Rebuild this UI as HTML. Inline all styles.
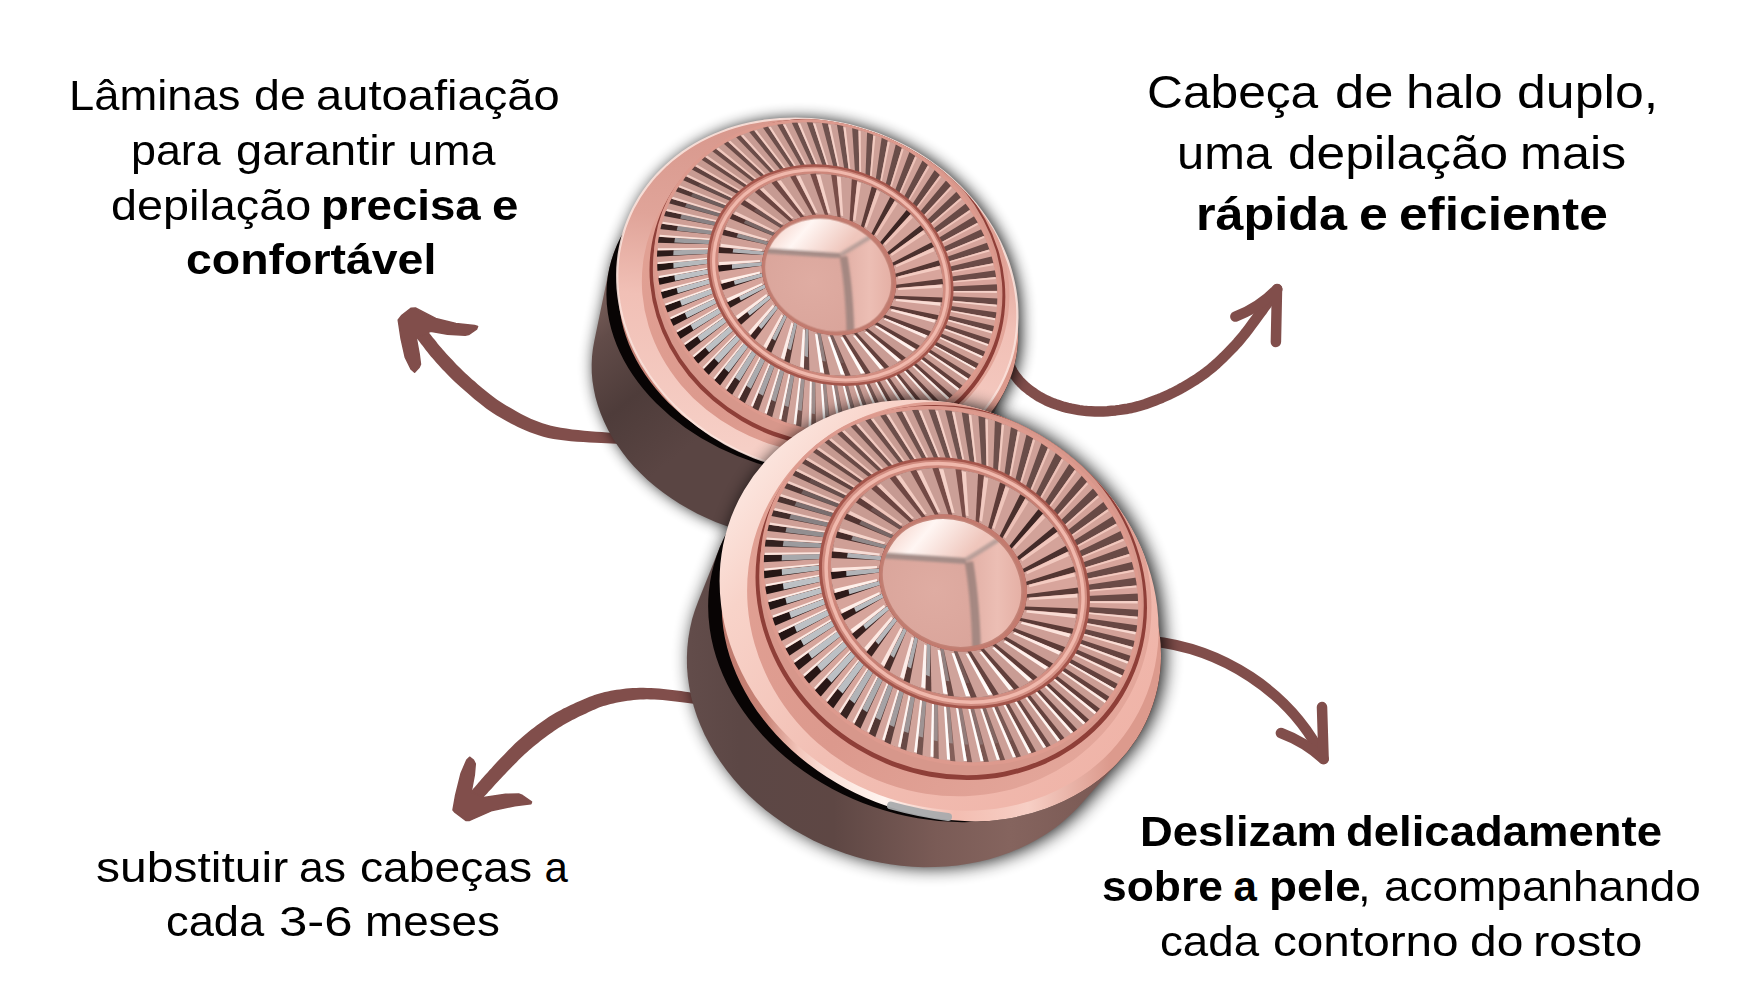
<!DOCTYPE html>
<html lang="pt"><head><meta charset="utf-8"><title>Infográfico</title>
<style>
html,body{margin:0;padding:0;background:#fff;}
body{width:1754px;height:1007px;position:relative;overflow:hidden;font-family:"Liberation Sans",sans-serif;color:#000;}
.blk{margin:0;}
.ln{position:absolute;display:block;white-space:nowrap;line-height:1;transform-origin:0 0;}
.ln b{font-weight:700;}
svg{position:absolute;left:0;top:0;}
</style></head><body>
<svg width="1754" height="1007" viewBox="0 0 1754 1007">

<defs>
<filter id="soft" x="-10%" y="-10%" width="120%" height="120%"><feGaussianBlur stdDeviation="1.3"/></filter>
<filter id="sh" x="-20%" y="-20%" width="140%" height="140%"><feGaussianBlur stdDeviation="9"/><feOffset dx="3.5" dy="0"/></filter>
<linearGradient id="bodyg" gradientUnits="userSpaceOnUse" x1="690" y1="0" x2="1100" y2="0">
 <stop offset="0" stop-color="#624c4a"/><stop offset="0.12" stop-color="#5c4745"/><stop offset="0.35" stop-color="#5e4744"/><stop offset="0.6" stop-color="#7a5b56"/><stop offset="0.78" stop-color="#85645e"/><stop offset="1" stop-color="#7b5a55"/>
</linearGradient>
<linearGradient id="bodyg1" gradientUnits="userSpaceOnUse" x1="690" y1="600" x2="830" y2="760">
 <stop offset="0" stop-color="#80645f"/><stop offset="0.25" stop-color="#624c49"/><stop offset="0.6" stop-color="#4e3c3a"/><stop offset="1" stop-color="#5a4543"/>
</linearGradient>
<linearGradient id="lipg" gradientUnits="userSpaceOnUse" x1="700" y1="0" x2="1110" y2="0">
 <stop offset="0" stop-color="#b87468"/><stop offset="0.16" stop-color="#c98477"/><stop offset="0.24" stop-color="#f3c5ba"/><stop offset="0.31" stop-color="#fbe2da"/><stop offset="0.45" stop-color="#fff4ef"/><stop offset="0.62" stop-color="#f3bdb1"/><stop offset="0.8" stop-color="#f7cfc5"/><stop offset="1" stop-color="#dc9a8d"/>
</linearGradient>
<linearGradient id="paleg" gradientUnits="userSpaceOnUse" x1="740" y1="450" x2="1140" y2="760">
 <stop offset="0" stop-color="#fdebe5"/><stop offset="0.18" stop-color="#f8d3c9"/><stop offset="0.5" stop-color="#f2bfb4"/><stop offset="1" stop-color="#efb3a7"/>
</linearGradient>
<linearGradient id="paleg1" gradientUnits="userSpaceOnUse" x1="800" y1="400" x2="760" y2="780">
 <stop offset="0" stop-color="#d8988d"/><stop offset="0.3" stop-color="#e0a499"/><stop offset="0.55" stop-color="#f1c0b6"/><stop offset="1" stop-color="#f6cfc6"/>
</linearGradient>
<linearGradient id="teethg" gradientUnits="userSpaceOnUse" x1="740" y1="450" x2="1140" y2="760">
 <stop offset="0" stop-color="#e3a396"/><stop offset="0.5" stop-color="#dc998d"/><stop offset="1" stop-color="#e5a99d"/>
</linearGradient>
<linearGradient id="midg" gradientUnits="userSpaceOnUse" x1="820" y1="470" x2="1090" y2="700">
 <stop offset="0" stop-color="#d48f83"/><stop offset="0.5" stop-color="#c77f73"/><stop offset="1" stop-color="#d9978b"/>
</linearGradient>
<radialGradient id="domeg" gradientUnits="userSpaceOnUse" cx="935" cy="590" r="90">
 <stop offset="0" stop-color="#dfaca2"/><stop offset="0.7" stop-color="#daa59b"/><stop offset="1" stop-color="#cf958a"/>
</radialGradient>
<linearGradient id="domeTop" gradientUnits="userSpaceOnUse" x1="900" y1="515" x2="960" y2="565">
 <stop offset="0" stop-color="#f4d0c7"/><stop offset="0.4" stop-color="#fff6f3"/><stop offset="1" stop-color="#efc6bc"/>
</linearGradient>
<linearGradient id="domeRight" gradientUnits="userSpaceOnUse" x1="970" y1="0" x2="1025" y2="0">
 <stop offset="0" stop-color="#e2b0a6"/><stop offset="0.5" stop-color="#ecbeb4"/><stop offset="1" stop-color="#e4aea3"/>
</linearGradient>
</defs>

<path d="M1002.0 345.0 L1003.5 348.8 L1004.9 352.7 L1006.3 356.6 L1007.7 360.6 L1009.2 364.4 L1010.8 368.1 L1012.6 371.6 L1014.6 374.9 L1016.9 377.9 L1019.3 380.8 L1021.9 383.5 L1024.6 386.1 L1027.5 388.5 L1030.4 390.8 L1033.4 392.9 L1036.5 395.0 L1039.6 396.9 L1042.9 398.7 L1046.2 400.4 L1049.6 401.9 L1053.1 403.3 L1056.7 404.6 L1060.3 405.8 L1063.9 406.9 L1067.6 407.9 L1071.4 408.7 L1075.2 409.4 L1079.1 410.1 L1083.0 410.6 L1086.9 411.0 L1090.9 411.2 L1094.9 411.4 L1099.0 411.4 L1103.1 411.4 L1107.3 411.2 L1111.5 410.8 L1115.7 410.4 L1119.8 409.9 L1123.8 409.3 L1127.7 408.7 L1131.4 408.0 L1134.9 407.1 L1138.4 406.2 L1141.7 405.2 L1145.1 404.2 L1148.4 403.0 L1151.7 401.8 L1155.1 400.5 L1158.5 399.2 L1161.9 397.8 L1165.3 396.3 L1168.8 394.7 L1172.2 393.1 L1175.6 391.4 L1179.0 389.6 L1182.4 387.7 L1185.8 385.7 L1189.2 383.7 L1192.7 381.6 L1196.1 379.5 L1199.5 377.2 L1202.9 374.8 L1206.4 372.2 L1209.8 369.5 L1213.3 366.6 L1216.8 363.5 L1220.3 360.2 L1223.8 356.9 L1227.3 353.4 L1230.7 349.9 L1234.0 346.5 L1237.2 343.0 L1240.2 339.5 L1243.1 336.0 L1246.0 332.4 L1248.7 328.8 L1251.4 325.2 L1254.0 321.6 L1256.6 318.1 L1259.1 314.7 L1261.6 311.4 L1263.9 308.1 L1266.2 304.9 L1268.4 301.8 L1270.6 298.6 L1272.8 295.5 L1275.1 292.4 L1277.3 289.2" fill="none" stroke="#814e4b" stroke-width="10.5" stroke-linecap="round" stroke-linejoin="round"/>
<path d="M1235.4 316.6 Q1260 307 1277 289 L1275.9 342" fill="none" stroke="#814e4b" stroke-width="10.5" stroke-linecap="round" stroke-linejoin="round"/>
<path d="M1150 641 C1220 648 1290 690 1323.6 759" fill="none" stroke="#814e4b" stroke-width="10.5" stroke-linecap="round"/>
<path d="M1322 707 L1323.6 759 Q1305 742 1280.9 733" fill="none" stroke="#814e4b" stroke-width="10.5" stroke-linecap="round" stroke-linejoin="round"/>
<path d="M650.0 434.0 L647.3 434.0 L644.7 433.9 L642.3 434.0 L639.9 434.0 L637.5 434.0 L635.2 434.0 L632.7 434.0 L630.1 434.0 L627.2 433.9 L624.1 433.7 L620.6 433.5 L616.6 433.3 L612.2 432.9 L607.2 432.5 L601.8 432.1 L596.1 431.7 L590.2 431.2 L584.2 430.7 L578.2 430.1 L572.2 429.4 L566.4 428.6 L560.9 427.8 L555.7 426.8 L551.0 425.7 L546.7 424.5 L542.5 423.2 L538.5 421.8 L534.6 420.3 L530.8 418.7 L527.2 417.0 L523.6 415.3 L520.2 413.4 L516.7 411.5 L513.3 409.6 L509.9 407.6 L506.6 405.7 L503.4 403.7 L500.3 401.7 L497.2 399.7 L494.2 397.5 L491.3 395.3 L488.4 393.1 L485.6 390.8 L482.8 388.5 L480.1 386.2 L477.4 383.9 L474.8 381.6 L472.2 379.4 L469.8 377.2 L467.4 375.1 L465.1 372.9 L462.8 370.8 L460.6 368.6 L458.5 366.5 L456.4 364.4 L454.4 362.2 L452.4 360.1 L450.4 358.0 L448.5 355.9 L446.6 353.9 L444.7 351.8 L442.9 349.8 L441.2 347.8 L439.4 345.7 L437.7 343.7 L436.1 341.6 L434.5 339.6 L432.9 337.7 L431.4 335.8 L430.0 334.0 L428.6 332.3 L427.3 330.7 L426.2 329.2 L425.1 327.9 L424.2 326.7 L423.3 325.5 L422.5 324.4 L421.8 323.4 L421.1 322.4 L420.3 321.4 L419.6 320.4 L418.8 319.3 L418.1 318.3 L417.2 317.1 L406.8 324.9 L407.6 326.0 L408.3 327.0 L409.1 328.0 L409.8 329.0 L410.5 330.0 L411.3 331.0 L412.1 332.1 L412.9 333.3 L413.8 334.5 L414.8 335.8 L415.9 337.2 L417.1 338.7 L418.3 340.3 L419.7 342.1 L421.1 343.9 L422.6 345.8 L424.1 347.8 L425.7 349.9 L427.4 352.0 L429.1 354.2 L430.9 356.4 L432.8 358.6 L434.7 360.8 L436.6 362.9 L438.5 365.1 L440.5 367.2 L442.5 369.4 L444.6 371.5 L446.7 373.8 L448.9 376.0 L451.1 378.2 L453.4 380.5 L455.8 382.8 L458.3 385.0 L460.8 387.3 L463.4 389.6 L466.0 391.8 L468.6 394.1 L471.4 396.5 L474.2 398.9 L477.1 401.3 L480.0 403.6 L483.1 406.0 L486.2 408.4 L489.5 410.7 L492.8 413.0 L496.3 415.2 L499.8 417.3 L503.3 419.3 L506.8 421.2 L510.4 423.2 L514.0 425.1 L517.8 427.0 L521.7 428.8 L525.7 430.6 L529.9 432.3 L534.2 433.8 L538.6 435.3 L543.3 436.7 L548.2 437.9 L553.4 438.9 L559.0 439.8 L564.9 440.5 L570.9 441.2 L577.1 441.7 L583.3 442.1 L589.4 442.5 L595.4 442.8 L601.1 443.1 L606.5 443.3 L611.5 443.5 L616.0 443.7 L620.0 444.0 L623.6 444.1 L626.9 444.2 L629.9 444.3 L632.7 444.3 L635.3 444.3 L637.7 444.2 L640.1 444.1 L642.4 444.1 L644.8 444.0 L647.3 444.0 L650.0 444.0Z" fill="#814e4b"/>
<path d="M398.2 320.0 L401.9 315.3 L411.2 308.2 L415.4 307.9 L435.7 318.4 L455.9 323.4 L474.5 325.4 L477.6 326.5 L476.5 329.2 L468.6 334.6 L465.2 335.2 L447.5 334.2 L430.6 331.2 L416.3 338.1 L419.2 354.1 L420.5 364.3 L419.2 367.3 L414.6 372.2 L411.2 369.3 L405.3 357.5 L401.1 338.9 Z" fill="#814e4b" stroke="#814e4b" stroke-width="1.5" stroke-linejoin="round"/>
<path d="M731.1 701.1 L728.3 700.5 L725.7 699.9 L723.0 699.2 L720.4 698.5 L717.8 697.9 L715.1 697.2 L712.4 696.6 L709.5 695.9 L706.6 695.3 L703.5 694.7 L700.2 694.1 L696.8 693.5 L693.2 692.9 L689.3 692.3 L685.3 691.7 L681.1 691.1 L676.7 690.5 L672.4 690.0 L668.0 689.4 L663.6 689.0 L659.2 688.6 L655.0 688.2 L651.0 688.0 L647.1 687.9 L643.4 687.8 L639.7 687.8 L636.2 687.9 L632.8 688.1 L629.4 688.3 L626.1 688.6 L622.9 688.9 L619.7 689.4 L616.6 689.8 L613.6 690.3 L610.7 690.8 L607.8 691.4 L604.9 692.0 L602.2 692.7 L599.5 693.4 L596.9 694.2 L594.4 695.0 L592.0 695.9 L589.6 696.8 L587.3 697.8 L585.0 698.7 L582.7 699.7 L580.4 700.7 L578.0 701.7 L575.6 702.8 L573.2 703.9 L570.8 705.0 L568.3 706.2 L565.9 707.4 L563.4 708.6 L561.0 709.9 L558.5 711.3 L556.1 712.6 L553.6 714.1 L551.1 715.6 L548.6 717.1 L546.2 718.8 L543.7 720.4 L541.2 722.2 L538.7 724.0 L536.3 725.8 L533.8 727.7 L531.3 729.6 L528.9 731.6 L526.5 733.5 L524.1 735.5 L521.8 737.5 L519.5 739.5 L517.2 741.5 L515.0 743.6 L512.8 745.7 L510.6 747.9 L508.5 750.1 L506.4 752.2 L504.3 754.4 L502.3 756.5 L500.3 758.6 L498.4 760.6 L496.5 762.6 L494.7 764.6 L492.9 766.5 L491.2 768.4 L489.4 770.3 L487.8 772.2 L486.1 774.0 L484.5 775.8 L483.0 777.6 L481.4 779.3 L480.0 781.0 L478.6 782.6 L477.2 784.2 L475.9 785.7 L474.6 787.2 L473.4 788.6 L472.2 789.9 L471.1 791.2 L470.1 792.4 L469.1 793.6 L468.1 794.8 L467.1 796.0 L466.1 797.2 L465.1 798.3 L464.1 799.5 L463.1 800.7 L472.9 809.3 L474.0 808.1 L475.0 806.9 L476.1 805.7 L477.1 804.6 L478.1 803.5 L479.1 802.3 L480.1 801.1 L481.2 800.0 L482.3 798.7 L483.4 797.5 L484.6 796.1 L485.9 794.7 L487.3 793.2 L488.7 791.6 L490.2 790.0 L491.7 788.4 L493.2 786.7 L494.7 785.0 L496.3 783.3 L498.0 781.5 L499.6 779.7 L501.3 777.9 L503.1 776.1 L504.9 774.2 L506.7 772.3 L508.6 770.3 L510.6 768.3 L512.5 766.3 L514.5 764.2 L516.6 762.2 L518.6 760.1 L520.7 758.1 L522.8 756.1 L524.9 754.1 L527.0 752.2 L529.1 750.3 L531.2 748.5 L533.5 746.6 L535.7 744.7 L538.0 742.9 L540.3 741.0 L542.6 739.2 L545.0 737.4 L547.3 735.7 L549.7 734.0 L552.0 732.4 L554.3 730.8 L556.6 729.3 L558.8 727.8 L561.0 726.4 L563.3 725.1 L565.5 723.8 L567.8 722.5 L570.1 721.3 L572.3 720.1 L574.6 718.9 L576.9 717.8 L579.2 716.6 L581.5 715.6 L583.8 714.5 L586.1 713.4 L588.3 712.3 L590.5 711.3 L592.7 710.3 L594.8 709.4 L596.9 708.5 L599.0 707.6 L601.2 706.8 L603.4 706.1 L605.7 705.4 L608.1 704.7 L610.6 704.0 L613.3 703.4 L616.0 702.8 L618.8 702.2 L621.6 701.7 L624.6 701.2 L627.5 700.8 L630.6 700.4 L633.7 700.0 L636.9 699.8 L640.1 699.5 L643.5 699.4 L646.9 699.3 L650.5 699.4 L654.4 699.5 L658.4 699.8 L662.5 700.1 L666.8 700.5 L671.1 700.9 L675.4 701.4 L679.7 701.9 L683.8 702.4 L687.8 702.9 L691.6 703.4 L695.2 703.9 L698.5 704.4 L701.6 704.9 L704.5 705.5 L707.4 706.0 L710.1 706.6 L712.8 707.2 L715.4 707.8 L718.0 708.4 L720.7 709.0 L723.4 709.7 L726.1 710.3 L728.9 710.9Z" fill="#814e4b"/>
<path d="M453.0 810.0 L455.5 795.8 L461.1 773.2 L466.8 760.0 L469.6 757.2 L473.4 760.0 L475.3 763.8 L474.3 775.1 L471.1 792.1 L483.8 797.4 L505.5 794.3 L518.7 794.0 L522.5 795.5 L531.5 801.9 L530.9 803.8 L514.9 805.7 L492.3 810.4 L469.6 820.4 L465.8 820.4 L454.5 811.9 Z" fill="#814e4b" stroke="#814e4b" stroke-width="1.5" stroke-linejoin="round"/>
<g transform="translate(819 275) scale(0.909 0.84) translate(-942 -583)">
<path d="M693.3 670.4 L694.9 660.9 L711.5 574.4 L713.8 564.9 L716.7 555.7 L720.1 546.6 L734.2 511.7 L737.4 504.3 L741.0 497.2 L744.8 490.2 L749.0 483.4 L753.4 476.8 L758.1 470.4 L763.1 464.2 L768.4 458.3 L773.9 452.5 L779.7 447.0 L785.8 441.8 L792.0 436.8 L798.6 432.0 L805.3 427.6 L812.2 423.4 L819.4 419.5 L826.7 415.9 L834.2 412.6 L841.8 409.6 L849.6 406.9 L857.6 404.5 L865.7 402.4 L873.9 400.7 L882.2 399.2 L890.5 398.1 L899.0 397.3 L907.5 396.9 L916.1 396.7 L924.7 396.9 L933.3 397.4 L942.0 398.3 L950.6 399.4 L959.2 400.9 L967.8 402.7 L976.4 404.8 L984.9 407.3 L993.3 410.0 L1001.7 413.0 L1009.9 416.4 L1018.1 420.0 L1026.1 424.0 L1034.0 428.2 L1041.7 432.7 L1049.3 437.4 L1056.7 442.5 L1064.0 447.7 L1071.0 453.3 L1077.9 459.0 L1084.5 465.0 L1090.9 471.3 L1097.1 477.7 L1103.1 484.3 L1108.7 491.1 L1114.2 498.1 L1119.3 505.3 L1124.2 512.7 L1128.8 520.1 L1133.1 527.7 L1137.1 535.5 L1140.8 543.3 L1144.2 551.3 L1147.3 559.3 L1150.1 567.4 L1152.5 575.6 L1154.6 583.8 L1156.4 592.1 L1157.9 600.4 L1159.0 608.7 L1159.8 617.0 L1160.2 625.3 L1160.7 657.8 L1160.3 667.6 L1159.3 677.4 L1157.7 687.0 L1155.4 696.5 L1152.5 705.7 L1149.1 714.8 L1145.0 723.7 L1109.8 800.6 L1105.3 809.1 L1100.4 817.3 L1094.8 825.2 L1088.8 832.9 L1082.3 840.2 L1075.3 847.1 L1067.9 853.7 L1060.0 859.9 L1051.7 865.7 L1043.0 871.1 L1033.9 876.0 L1024.5 880.5 L1014.8 884.5 L1004.8 888.1 L994.5 891.2 L984.0 893.7 L973.2 895.8 L962.3 897.4 L951.3 898.5 L940.1 899.1 L928.9 899.2 L917.6 898.7 L906.2 897.8 L894.9 896.3 L883.6 894.3 L872.4 891.9 L861.3 888.9 L850.3 885.5 L839.4 881.6 L828.8 877.2 L818.3 872.4 L808.2 867.1 L798.2 861.4 L788.6 855.3 L779.4 848.8 L770.4 842.0 L761.9 834.8 L753.7 827.2 L746.0 819.4 L738.7 811.2 L731.9 802.8 L725.6 794.1 L719.8 785.2 L714.5 776.1 L709.7 766.9 L705.5 757.5 L701.8 747.9 L698.7 738.3 L696.1 728.6 L694.2 718.8 L692.8 709.1 L692.0 699.3 L691.9 689.6 L692.3 680.0Z" fill="#000" opacity="0.92" filter="url(#sh)"/>
<path d="M693.3 670.4 L694.9 660.9 L711.5 574.4 L713.8 564.9 L716.7 555.7 L720.1 546.6 L724.2 537.7 L728.8 529.1 L734.0 520.8 L739.7 512.8 L746.0 505.1 L752.8 497.8 L760.1 490.8 L767.8 484.2 L776.1 478.0 L784.7 472.2 L793.8 466.9 L803.2 462.0 L813.0 457.6 L823.2 453.6 L833.6 450.1 L844.4 447.2 L855.4 444.7 L866.6 442.7 L877.9 441.3 L889.5 440.4 L901.1 439.9 L912.9 440.1 L924.7 440.7 L936.5 441.9 L948.4 443.5 L960.2 445.7 L971.9 448.4 L983.5 451.6 L995.0 455.3 L1006.3 459.5 L1017.4 464.1 L1028.3 469.2 L1039.0 474.7 L1049.3 480.7 L1059.4 487.1 L1069.1 493.8 L1078.4 501.0 L1087.4 508.5 L1095.9 516.3 L1103.9 524.5 L1111.6 532.9 L1118.7 541.6 L1125.3 550.6 L1131.4 559.7 L1137.0 569.1 L1142.0 578.6 L1146.4 588.3 L1150.3 598.1 L1153.5 608.0 L1156.2 617.9 L1158.3 627.9 L1159.7 637.9 L1160.5 647.9 L1160.7 657.8 L1160.3 667.6 L1159.3 677.4 L1157.7 687.0 L1155.4 696.5 L1152.5 705.7 L1149.1 714.8 L1145.0 723.7 L1109.8 800.6 L1105.3 809.1 L1100.4 817.3 L1094.8 825.2 L1088.8 832.9 L1082.3 840.2 L1075.3 847.1 L1067.9 853.7 L1060.0 859.9 L1051.7 865.7 L1043.0 871.1 L1033.9 876.0 L1024.5 880.5 L1014.8 884.5 L1004.8 888.1 L994.5 891.2 L984.0 893.7 L973.2 895.8 L962.3 897.4 L951.3 898.5 L940.1 899.1 L928.9 899.2 L917.6 898.7 L906.2 897.8 L894.9 896.3 L883.6 894.3 L872.4 891.9 L861.3 888.9 L850.3 885.5 L839.4 881.6 L828.8 877.2 L818.3 872.4 L808.2 867.1 L798.2 861.4 L788.6 855.3 L779.4 848.8 L770.4 842.0 L761.9 834.8 L753.7 827.2 L746.0 819.4 L738.7 811.2 L731.9 802.8 L725.6 794.1 L719.8 785.2 L714.5 776.1 L709.7 766.9 L705.5 757.5 L701.8 747.9 L698.7 738.3 L696.1 728.6 L694.2 718.8 L692.8 709.1 L692.0 699.3 L691.9 689.6 L692.3 680.0Z" fill="url(#bodyg1)"/>
<path d="M1152.54 705.74 A230.50 185.50 19.00 1 1 716.66 555.66 A230.50 185.50 19.00 1 1 1152.54 705.74 Z" fill="#080404" />
<clipPath id="bt1"><path d="M1152.54 705.74 A230.50 185.50 19.00 1 1 716.66 555.66 A230.50 185.50 19.00 1 1 1152.54 705.74 Z" fill="#000" /></clipPath>
<g clip-path="url(#bt1)"><path d="M1166.04 705.04 A230.50 185.50 19.00 1 1 730.16 554.96 A230.50 185.50 19.00 1 1 1166.04 705.04 Z" fill="url(#lipg)" /></g>
<path d="M891 805.5 Q920 813.5 948 817" fill="none" stroke="#a9abad" stroke-width="8" stroke-linecap="round" opacity="0.95"/>
<path d="M1148.9 697.1 L1146.0 704.6 L1142.8 711.9 L1139.3 719.0 L1135.4 726.0 L1131.3 732.8 L1126.9 739.4 L1122.2 745.8 L1117.1 752.0 L1111.9 758.0 L1106.3 763.7 L1100.5 769.2 L1094.5 774.5 L1088.2 779.5 L1081.7 784.2 L1075.0 788.6 L1068.0 792.8 L1060.9 796.7 L1053.6 800.3 L1046.1 803.6 L1038.4 806.6 L1030.6 809.3 L1022.7 811.7 L1014.6 813.8 L1006.4 815.6 L998.1 817.0 L989.7 818.1 L981.3 818.9 L972.7 819.4 L964.2 819.5 L955.6 819.3 L946.9 818.8 L938.3 818.0 L929.6 816.8 L921.0 815.3 L912.4 813.5 L903.9 811.4 L895.4 809.0 L886.9 806.2 L878.6 803.2 L870.3 799.9 L862.2 796.2 L854.2 792.3 L846.3 788.1 L838.5 783.6 L830.9 778.8 L823.5 773.8 L816.3 768.5 L809.2 763.0 L802.4 757.2 L795.7 751.2 L789.3 745.0 L783.1 738.5 L777.2 731.9 L771.5 725.1 L766.1 718.1 L760.9 710.9 L756.0 703.6 L751.5 696.1 L747.1 688.5 L743.1 680.8 L739.4 672.9 L736.0 665.0 L732.9 656.9 L730.2 648.8 L727.7 640.6 L725.6 632.4 L723.8 624.1 L722.4 615.9 L721.3 607.6 L720.5 599.3 L720.1 591.0 L720.0 582.7 L720.2 574.5 L720.8 566.3 L721.7 558.2 L723.0 550.2 L724.6 542.3 L726.5 534.4 L728.7 526.7 L731.3 519.1 L734.2 511.7 L737.4 504.3 L741.0 497.2 L744.8 490.2 L749.0 483.4 L753.4 476.8 L758.1 470.4 L763.1 464.2 L768.4 458.3 L773.9 452.5 L779.7 447.0 L785.8 441.8 L792.0 436.8 L798.6 432.0 L805.3 427.6 L812.2 423.4 L819.4 419.5 L826.7 415.9 L834.2 412.6 L841.8 409.6 L849.6 406.9 L857.6 404.5 L865.7 402.4 L873.9 400.7 L882.2 399.2 L890.5 398.1 L899.0 397.3 L907.5 396.9 L916.1 396.7 L924.7 396.9 L933.3 397.4 L942.0 398.3 L950.6 399.4 L959.2 400.9 L967.8 402.7 L976.4 404.8 L984.9 407.3 L993.3 410.0 L1001.7 413.0 L1009.9 416.4 L1018.1 420.0 L1026.1 424.0 L1034.0 428.2 L1041.7 432.7 L1049.3 437.4 L1056.7 442.5 L1064.0 447.7 L1071.0 453.3 L1077.9 459.0 L1084.5 465.0 L1090.9 471.3 L1097.1 477.7 L1103.1 484.3 L1108.7 491.1 L1114.2 498.1 L1119.3 505.3 L1124.2 512.7 L1128.8 520.1 L1133.1 527.7 L1137.1 535.5 L1140.8 543.3 L1144.2 551.3 L1147.3 559.3 L1150.1 567.4 L1152.5 575.6 L1154.6 583.8 L1156.4 592.1 L1157.9 600.4 L1159.0 608.7 L1159.8 617.0 L1160.2 625.3 L1160.3 633.5 L1160.0 641.7 L1159.5 649.9 L1158.5 658.0 L1157.3 666.0 L1155.7 674.0 L1153.8 681.8 L1151.5 689.5 Z" fill="url(#paleg1)" />
<path d="M1148.9 697.1 L1146.0 704.6 L1142.8 711.9 L1139.3 719.0 L1135.4 726.0 L1131.3 732.8 L1126.9 739.4 L1122.2 745.8 L1117.1 752.0 L1111.9 758.0 L1106.3 763.7 L1100.5 769.2 L1094.5 774.5 L1088.2 779.5 L1081.7 784.2 L1075.0 788.6 L1068.0 792.8 L1060.9 796.7 L1053.6 800.3 L1046.1 803.6 L1038.4 806.6 L1030.6 809.3 L1022.7 811.7 L1014.6 813.8 L1006.4 815.6 L998.1 817.0 L989.7 818.1 L981.3 818.9 L972.7 819.4 L964.2 819.5 L955.6 819.3 L946.9 818.8 L938.3 818.0 L929.6 816.8 L921.0 815.3 L912.4 813.5 L903.9 811.4 L895.4 809.0 L886.9 806.2 L878.6 803.2 L870.3 799.9 L862.2 796.2 L854.2 792.3 L846.3 788.1 L838.5 783.6 L830.9 778.8 L823.5 773.8 L816.3 768.5 L809.2 763.0 L802.4 757.2 L795.7 751.2 L789.3 745.0 L783.1 738.5 L777.2 731.9 L771.5 725.1 L766.1 718.1 L760.9 710.9 L756.0 703.6 L751.5 696.1 L747.1 688.5 L743.1 680.8 L739.4 672.9 L736.0 665.0 L732.9 656.9 L730.2 648.8 L727.7 640.6 L725.6 632.4 L723.8 624.1 L722.4 615.9 L721.3 607.6 L720.5 599.3 L720.1 591.0 L720.0 582.7 L720.2 574.5 L720.8 566.3 L721.7 558.2 L723.0 550.2 L724.6 542.3 L726.5 534.4 L728.7 526.7 L731.3 519.1 L734.2 511.7 L737.4 504.3 L741.0 497.2 L744.8 490.2 L749.0 483.4 L753.4 476.8 L758.1 470.4 L763.1 464.2 L768.4 458.3 L773.9 452.5 L779.7 447.0 L785.8 441.8 L792.0 436.8 L798.6 432.0 L805.3 427.6 L812.2 423.4 L819.4 419.5 L826.7 415.9 L834.2 412.6 L841.8 409.6 L849.6 406.9 L857.6 404.5 L865.7 402.4 L873.9 400.7 L882.2 399.2 L890.5 398.1 L899.0 397.3 L907.5 396.9 L916.1 396.7 L924.7 396.9 L933.3 397.4 L942.0 398.3 L950.6 399.4 L959.2 400.9 L967.8 402.7 L976.4 404.8 L984.9 407.3 L993.3 410.0 L1001.7 413.0 L1009.9 416.4 L1018.1 420.0 L1026.1 424.0 L1034.0 428.2 L1041.7 432.7 L1049.3 437.4 L1056.7 442.5 L1064.0 447.7 L1071.0 453.3 L1077.9 459.0 L1084.5 465.0 L1090.9 471.3 L1097.1 477.7 L1103.1 484.3 L1108.7 491.1 L1114.2 498.1 L1119.3 505.3 L1124.2 512.7 L1128.8 520.1 L1133.1 527.7 L1137.1 535.5 L1140.8 543.3 L1144.2 551.3 L1147.3 559.3 L1150.1 567.4 L1152.5 575.6 L1154.6 583.8 L1156.4 592.1 L1157.9 600.4 L1159.0 608.7 L1159.8 617.0 L1160.2 625.3 L1160.3 633.5 L1160.0 641.7 L1159.5 649.9 L1158.5 658.0 L1157.3 666.0 L1155.7 674.0 L1153.8 681.8 L1151.5 689.5 Z" fill="none" stroke="#fbe2db" stroke-width="2.5" opacity="0.9"/>
<clipPath id="pc1"><path d="M1148.9 697.1 L1146.0 704.6 L1142.8 711.9 L1139.3 719.0 L1135.4 726.0 L1131.3 732.8 L1126.9 739.4 L1122.2 745.8 L1117.1 752.0 L1111.9 758.0 L1106.3 763.7 L1100.5 769.2 L1094.5 774.5 L1088.2 779.5 L1081.7 784.2 L1075.0 788.6 L1068.0 792.8 L1060.9 796.7 L1053.6 800.3 L1046.1 803.6 L1038.4 806.6 L1030.6 809.3 L1022.7 811.7 L1014.6 813.8 L1006.4 815.6 L998.1 817.0 L989.7 818.1 L981.3 818.9 L972.7 819.4 L964.2 819.5 L955.6 819.3 L946.9 818.8 L938.3 818.0 L929.6 816.8 L921.0 815.3 L912.4 813.5 L903.9 811.4 L895.4 809.0 L886.9 806.2 L878.6 803.2 L870.3 799.9 L862.2 796.2 L854.2 792.3 L846.3 788.1 L838.5 783.6 L830.9 778.8 L823.5 773.8 L816.3 768.5 L809.2 763.0 L802.4 757.2 L795.7 751.2 L789.3 745.0 L783.1 738.5 L777.2 731.9 L771.5 725.1 L766.1 718.1 L760.9 710.9 L756.0 703.6 L751.5 696.1 L747.1 688.5 L743.1 680.8 L739.4 672.9 L736.0 665.0 L732.9 656.9 L730.2 648.8 L727.7 640.6 L725.6 632.4 L723.8 624.1 L722.4 615.9 L721.3 607.6 L720.5 599.3 L720.1 591.0 L720.0 582.7 L720.2 574.5 L720.8 566.3 L721.7 558.2 L723.0 550.2 L724.6 542.3 L726.5 534.4 L728.7 526.7 L731.3 519.1 L734.2 511.7 L737.4 504.3 L741.0 497.2 L744.8 490.2 L749.0 483.4 L753.4 476.8 L758.1 470.4 L763.1 464.2 L768.4 458.3 L773.9 452.5 L779.7 447.0 L785.8 441.8 L792.0 436.8 L798.6 432.0 L805.3 427.6 L812.2 423.4 L819.4 419.5 L826.7 415.9 L834.2 412.6 L841.8 409.6 L849.6 406.9 L857.6 404.5 L865.7 402.4 L873.9 400.7 L882.2 399.2 L890.5 398.1 L899.0 397.3 L907.5 396.9 L916.1 396.7 L924.7 396.9 L933.3 397.4 L942.0 398.3 L950.6 399.4 L959.2 400.9 L967.8 402.7 L976.4 404.8 L984.9 407.3 L993.3 410.0 L1001.7 413.0 L1009.9 416.4 L1018.1 420.0 L1026.1 424.0 L1034.0 428.2 L1041.7 432.7 L1049.3 437.4 L1056.7 442.5 L1064.0 447.7 L1071.0 453.3 L1077.9 459.0 L1084.5 465.0 L1090.9 471.3 L1097.1 477.7 L1103.1 484.3 L1108.7 491.1 L1114.2 498.1 L1119.3 505.3 L1124.2 512.7 L1128.8 520.1 L1133.1 527.7 L1137.1 535.5 L1140.8 543.3 L1144.2 551.3 L1147.3 559.3 L1150.1 567.4 L1152.5 575.6 L1154.6 583.8 L1156.4 592.1 L1157.9 600.4 L1159.0 608.7 L1159.8 617.0 L1160.2 625.3 L1160.3 633.5 L1160.0 641.7 L1159.5 649.9 L1158.5 658.0 L1157.3 666.0 L1155.7 674.0 L1153.8 681.8 L1151.5 689.5 Z" fill="#000" /></clipPath>
<g clip-path="url(#pc1)"><path d="M1125.42 702.75 A204.41 193.68 30.50 1 1 773.18 495.25 A204.41 193.68 30.50 1 1 1125.42 702.75 Z" fill="url(#teethg)" /></g>
</g>
<g transform="translate(819 275) scale(0.909 0.84) translate(-942 -583)">
<g clip-path="url(#pc1)">
<g transform="translate(0 583) scale(1 1.0476) translate(0 -583)">
<path d="M1122.91 695.64 A200.26 182.67 31.00 1 1 779.59 489.36 A200.26 182.67 31.00 1 1 1122.91 695.64 Z" fill="#8f3f38" />
<path d="M1119.13 693.32 A196.60 179.18 31.50 1 1 783.87 487.88 A196.60 179.18 31.50 1 1 1119.13 693.32 Z" fill="#d7978b" />
<path d="M1116.51 689.37 A195.17 169.45 32.00 1 1 785.49 482.53 A195.17 169.45 32.00 1 1 1116.51 689.37 Z" fill="#5a3a38" />
<path d="M1066.9 661.0 L1116.5 689.4 L1107.8 701.8 L1060.2 669.2Z" fill="#61403c"/>
<path d="M1066.9 661.0 L1116.5 689.4 L1110.9 697.7 L1062.6 666.5Z" fill="#cb9d94"/>
<path d="M1069.4 662.5 L1115.0 688.6 L1113.6 690.8 L1068.3 664.0Z" fill="#fce8e2"/>
<path d="M1060.2 669.2 L1107.8 701.8 L1097.8 713.4 L1052.6 676.7Z" fill="#603e3a"/>
<path d="M1060.2 669.2 L1107.8 701.8 L1101.2 709.7 L1055.2 674.4Z" fill="#c99c93"/>
<path d="M1062.5 670.9 L1106.3 700.9 L1104.7 703.0 L1061.2 672.3Z" fill="#fdece6"/>
<path d="M1052.6 676.7 L1097.8 713.4 L1086.7 723.9 L1044.2 683.5Z" fill="#5f3d39"/>
<path d="M1052.6 676.7 L1097.8 713.4 L1090.2 720.8 L1046.9 681.5Z" fill="#c89a92"/>
<path d="M1054.8 678.7 L1096.4 712.3 L1094.5 714.3 L1053.3 680.0Z" fill="#ffefea"/>
<path d="M1044.2 683.5 L1086.7 723.9 L1074.4 733.3 L1035.1 689.4Z" fill="#603e3a"/>
<path d="M1044.2 683.5 L1086.7 723.9 L1078.2 730.6 L1037.9 687.7Z" fill="#c79b93"/>
<path d="M1046.3 685.6 L1085.3 722.7 L1083.2 724.5 L1044.6 686.8Z" fill="#fff2ed"/>
<path d="M1035.1 689.4 L1074.4 733.3 L1061.2 741.5 L1025.4 694.5Z" fill="#65423e"/>
<path d="M1035.1 689.4 L1074.4 733.3 L1065.2 739.1 L1028.4 693.1Z" fill="#c89b93"/>
<path d="M1037.0 691.7 L1073.2 732.0 L1070.8 733.6 L1035.2 692.7Z" fill="#fff3ef"/>
<path d="M1025.4 694.5 L1061.2 741.5 L1047.0 748.4 L1015.1 698.7Z" fill="#694642"/>
<path d="M1025.4 694.5 L1061.2 741.5 L1051.4 746.5 L1018.2 697.6Z" fill="#c99c94"/>
<path d="M1027.1 697.0 L1060.0 740.1 L1057.5 741.5 L1025.2 697.8Z" fill="#fff5f1"/>
<path d="M1015.1 698.7 L1047.0 748.4 L1032.1 754.1 L1004.3 702.0Z" fill="#6d4a45"/>
<path d="M1015.1 698.7 L1047.0 748.4 L1036.7 752.5 L1007.6 701.1Z" fill="#ca9d95"/>
<path d="M1016.5 701.3 L1046.0 747.0 L1043.3 748.1 L1014.6 702.0Z" fill="#fff6f3"/>
<path d="M1004.3 702.0 L1032.1 754.1 L1016.6 758.4 L993.1 704.3Z" fill="#714e49"/>
<path d="M996.5 703.7 L1012.7 740.3 L1008.4 741.2 L993.1 704.3Z" fill="#795955"/>
<path d="M1004.3 702.0 L1032.1 754.1 L1021.3 757.2 L996.5 703.7Z" fill="#cb9e96"/>
<path d="M1005.5 704.7 L1031.2 752.6 L1028.4 753.4 L1003.5 705.2Z" fill="#fff8f5"/>
<path d="M993.1 704.3 L1016.6 758.4 L1000.5 761.3 L981.5 705.7Z" fill="#76534d"/>
<path d="M985.0 705.4 L998.1 743.0 L993.7 743.6 L981.5 705.7Z" fill="#826662"/>
<path d="M993.1 704.3 L1016.6 758.4 L1005.3 760.6 L985.0 705.4Z" fill="#cc9f97"/>
<path d="M994.1 707.1 L1015.8 756.8 L1012.9 757.4 L992.0 707.4Z" fill="#fff9f7"/>
<path d="M981.5 705.7 L1000.5 761.3 L984.0 762.8 L969.8 706.0Z" fill="#7a5751"/>
<path d="M973.3 706.0 L983.2 744.5 L978.7 744.6 L969.8 706.0Z" fill="#8b716e"/>
<path d="M981.5 705.7 L1000.5 761.3 L989.0 762.5 L973.3 706.0Z" fill="#cda098"/>
<path d="M982.3 708.5 L999.8 759.6 L996.9 760.0 L980.2 708.6Z" fill="#fffbf9"/>
<path d="M969.8 706.0 L984.0 762.8 L967.2 762.9 L957.9 705.4Z" fill="#7f5b56"/>
<path d="M961.5 705.7 L968.1 744.6 L963.5 744.4 L957.9 705.4Z" fill="#937c7a"/>
<path d="M969.8 706.0 L984.0 762.8 L972.3 763.0 L961.5 705.7Z" fill="#cea199"/>
<path d="M970.3 708.9 L983.5 761.1 L980.5 761.2 L968.2 708.8Z" fill="#fffdfc"/>
<path d="M957.9 705.4 L967.2 762.9 L950.4 761.5 L946.1 703.7Z" fill="#84605a"/>
<path d="M949.6 704.3 L952.8 743.5 L948.2 742.9 L946.1 703.7Z" fill="#9b8886"/>
<path d="M957.9 705.4 L967.2 762.9 L955.4 762.1 L949.6 704.3Z" fill="#cfa29a"/>
<path d="M958.2 708.2 L966.9 761.1 L963.8 761.0 L956.0 708.0Z" fill="#fffefe"/>
<path d="M946.1 703.7 L950.4 761.5 L933.5 758.7 L934.2 701.1Z" fill="#805d57"/>
<path d="M937.9 702.1 L937.7 741.2 L933.0 740.2 L934.2 701.1Z" fill="#9e8e8d"/>
<path d="M946.1 703.7 L950.4 761.5 L938.8 759.8 L937.9 702.1Z" fill="#cfa39b"/>
<path d="M946.1 706.6 L950.1 759.8 L947.1 759.4 L943.9 706.2Z" fill="#fffdfd"/>
<path d="M934.2 701.1 L933.5 758.7 L916.7 754.6 L922.6 697.6Z" fill="#74544f"/>
<path d="M926.5 698.9 L922.9 737.6 L917.8 736.1 L922.6 697.6Z" fill="#9e9393"/>
<path d="M934.2 701.1 L933.5 758.7 L922.4 756.1 L926.5 698.9Z" fill="#d0a39b"/>
<path d="M934.0 704.0 L933.4 757.0 L930.5 756.4 L932.0 703.4Z" fill="#fefaf9"/>
<path d="M922.6 697.6 L916.7 754.6 L900.3 749.1 L911.2 693.1Z" fill="#694a46"/>
<path d="M915.3 694.9 L908.4 732.9 L903.0 730.9 L911.2 693.1Z" fill="#9f9798"/>
<path d="M922.6 697.6 L916.7 754.6 L906.2 751.2 L915.3 694.9Z" fill="#d1a49b"/>
<path d="M922.1 700.4 L916.8 752.8 L914.1 752.0 L920.2 699.7Z" fill="#fef7f5"/>
<path d="M911.2 693.1 L900.3 749.1 L884.2 742.2 L900.1 687.8Z" fill="#5d403d"/>
<path d="M904.4 690.0 L894.1 727.1 L888.6 724.5 L900.1 687.8Z" fill="#a19c9e"/>
<path d="M911.2 693.1 L900.3 749.1 L890.4 745.0 L904.4 690.0Z" fill="#d2a49b"/>
<path d="M910.5 695.9 L900.5 747.3 L898.0 746.4 L908.6 695.1Z" fill="#fdf4f1"/>
<path d="M900.1 687.8 L884.2 742.2 L868.7 734.1 L889.5 681.6Z" fill="#513733"/>
<path d="M893.9 684.2 L880.4 720.2 L874.6 716.9 L889.5 681.6Z" fill="#a5a2a5"/>
<path d="M900.1 687.8 L884.2 742.2 L875.1 737.7 L893.9 684.2Z" fill="#d3a49c"/>
<path d="M899.2 690.4 L884.6 740.6 L882.2 739.4 L897.5 689.5Z" fill="#fdf1ed"/>
<path d="M889.5 681.6 L868.7 734.1 L853.9 724.9 L879.4 674.6Z" fill="#452d2a"/>
<path d="M883.8 677.7 L867.1 712.3 L861.3 708.3 L879.4 674.6Z" fill="#aaaaad"/>
<path d="M889.5 681.6 L868.7 734.1 L860.3 729.1 L883.8 677.7Z" fill="#d4a49c"/>
<path d="M888.3 684.1 L869.2 732.5 L867.1 731.3 L886.8 683.1Z" fill="#fcede9"/>
<path d="M879.4 674.6 L853.9 724.9 L839.8 714.5 L869.9 666.8Z" fill="#382321"/>
<path d="M874.3 670.5 L854.6 703.4 L848.8 698.7 L869.9 666.8Z" fill="#b1b3b7"/>
<path d="M879.4 674.6 L853.9 724.9 L846.3 719.5 L874.3 670.5Z" fill="#d5a59c"/>
<path d="M878.0 677.0 L854.5 723.3 L852.6 721.9 L876.6 675.9Z" fill="#fceae5"/>
<path d="M869.9 666.8 L839.8 714.5 L826.6 703.0 L861.1 658.4Z" fill="#2c1918"/>
<path d="M865.4 662.7 L842.7 693.5 L837.0 688.2 L861.1 658.4Z" fill="#babec2"/>
<path d="M869.9 666.8 L839.8 714.5 L833.0 708.8 L865.4 662.7Z" fill="#d6a59c"/>
<path d="M868.3 669.1 L840.6 713.0 L838.8 711.5 L867.1 668.0Z" fill="#fbe7e1"/>
<path d="M861.1 658.4 L826.6 703.0 L814.5 690.7 L853.1 649.4Z" fill="#291716"/>
<path d="M857.0 654.0 L831.5 682.6 L826.2 676.9 L853.1 649.4Z" fill="#bcc0c4"/>
<path d="M861.1 658.4 L826.6 703.0 L820.4 696.9 L857.0 654.0Z" fill="#d6a59c"/>
<path d="M859.3 660.5 L827.6 701.6 L825.9 700.1 L858.2 659.4Z" fill="#fbe7e1"/>
<path d="M853.1 649.4 L814.5 690.7 L803.4 677.4 L845.8 639.8Z" fill="#281615"/>
<path d="M849.3 644.6 L821.1 670.9 L816.4 664.8 L845.8 639.8Z" fill="#bcc0c4"/>
<path d="M853.1 649.4 L814.5 690.7 L808.7 684.1 L849.3 644.6Z" fill="#d6a59c"/>
<path d="M851.0 651.3 L815.5 689.3 L814.0 687.7 L850.0 650.1Z" fill="#fce8e2"/>
<path d="M845.8 639.8 L803.4 677.4 L793.5 663.5 L839.5 629.8Z" fill="#271615"/>
<path d="M842.5 634.8 L811.9 658.4 L807.7 652.1 L839.5 629.8Z" fill="#bcc0c4"/>
<path d="M845.8 639.8 L803.4 677.4 L798.2 670.4 L842.5 634.8Z" fill="#d6a59c"/>
<path d="M843.6 641.6 L804.6 676.2 L803.2 674.4 L842.7 640.3Z" fill="#fceae4"/>
<path d="M839.5 629.8 L793.5 663.5 L784.9 648.9 L834.1 619.5Z" fill="#261615"/>
<path d="M836.6 624.6 L803.7 645.4 L800.2 638.8 L834.1 619.5Z" fill="#bcc0c4"/>
<path d="M839.5 629.8 L793.5 663.5 L788.9 656.1 L836.6 624.6Z" fill="#d6a59c"/>
<path d="M837.1 631.4 L794.8 662.4 L793.6 660.5 L836.3 630.0Z" fill="#fdebe5"/>
<path d="M834.1 619.5 L784.9 648.9 L777.6 633.8 L829.6 608.8Z" fill="#251514"/>
<path d="M831.6 614.0 L796.8 631.9 L793.9 625.1 L829.6 608.8Z" fill="#bcc0c4"/>
<path d="M834.1 619.5 L784.9 648.9 L781.0 641.2 L831.6 614.0Z" fill="#d6a49b"/>
<path d="M831.5 620.8 L786.3 647.9 L785.3 646.0 L830.8 619.3Z" fill="#fdece6"/>
<path d="M829.6 608.8 L777.6 633.8 L771.7 618.3 L826.1 597.9Z" fill="#241514"/>
<path d="M827.7 603.2 L791.1 618.0 L788.8 611.1 L826.1 597.9Z" fill="#bcc0c4"/>
<path d="M829.6 608.8 L777.6 633.8 L774.4 625.9 L827.7 603.2Z" fill="#d6a49b"/>
<path d="M826.9 609.9 L779.1 633.0 L778.3 630.9 L826.4 608.4Z" fill="#feede7"/>
<path d="M826.1 597.9 L771.7 618.3 L767.3 602.6 L823.7 586.9Z" fill="#231514"/>
<path d="M824.7 592.2 L786.7 603.8 L785.1 596.9 L823.7 586.9Z" fill="#bcc0c4"/>
<path d="M826.1 597.9 L771.7 618.3 L769.2 610.2 L824.7 592.2Z" fill="#d6a49b"/>
<path d="M823.3 598.8 L773.3 617.6 L772.6 615.6 L822.9 597.3Z" fill="#feeee8"/>
<path d="M823.7 586.9 L767.3 602.6 L764.3 586.7 L822.3 575.8Z" fill="#221413"/>
<path d="M822.9 581.2 L783.7 589.5 L782.7 582.6 L822.3 575.8Z" fill="#bcc0c4"/>
<path d="M823.7 586.9 L767.3 602.6 L765.6 594.4 L822.9 581.2Z" fill="#d6a49b"/>
<path d="M820.8 587.5 L768.9 602.0 L768.5 599.9 L820.6 586.0Z" fill="#ffefe9"/>
<path d="M822.3 575.8 L764.3 586.7 L762.9 570.9 L822.0 564.9Z" fill="#251715"/>
<path d="M822.0 570.0 L782.0 575.0 L781.7 568.2 L822.0 564.9Z" fill="#b5b9bc"/>
<path d="M822.3 575.8 L764.3 586.7 L763.4 578.4 L822.0 570.0Z" fill="#d5a39a"/>
<path d="M819.4 576.2 L766.0 586.3 L765.8 584.2 L819.3 574.7Z" fill="#feeee8"/>
<path d="M822.0 564.9 L762.9 570.9 L762.9 555.1 L822.8 554.0Z" fill="#2d1c1b"/>
<path d="M822.3 558.9 L781.7 560.5 L782.0 554.1 L822.8 554.0Z" fill="#a8a9ac"/>
<path d="M822.0 564.9 L762.9 570.9 L762.7 562.3 L822.3 558.9Z" fill="#d3a299"/>
<path d="M819.0 565.0 L764.6 570.6 L764.5 568.4 L819.1 563.4Z" fill="#fdeae3"/>
<path d="M822.8 554.0 L762.9 555.1 L764.5 539.6 L824.6 543.4Z" fill="#342220"/>
<path d="M823.7 548.0 L782.8 546.2 L783.7 540.2 L824.6 543.4Z" fill="#9c9b9e"/>
<path d="M822.8 554.0 L762.9 555.1 L763.6 546.4 L823.7 548.0Z" fill="#d2a198"/>
<path d="M819.8 553.9 L764.7 555.0 L764.8 552.7 L820.0 552.3Z" fill="#fbe5de"/>
<path d="M824.6 543.4 L764.5 539.6 L767.6 524.5 L827.5 533.1Z" fill="#3c2725"/>
<path d="M826.1 537.4 L785.4 532.3 L786.8 526.6 L827.5 533.1Z" fill="#928e90"/>
<path d="M824.6 543.4 L764.5 539.6 L766.1 530.8 L826.1 537.4Z" fill="#d0a097"/>
<path d="M821.6 543.1 L766.3 539.6 L766.7 537.4 L822.0 541.5Z" fill="#f9e1d9"/>
<path d="M827.5 533.1 L767.6 524.5 L772.1 509.8 L831.3 523.3Z" fill="#432d2b"/>
<path d="M829.6 527.2 L789.3 518.8 L791.2 513.5 L831.3 523.3Z" fill="#888183"/>
<path d="M827.5 533.1 L767.6 524.5 L770.1 515.7 L829.6 527.2Z" fill="#ce9f96"/>
<path d="M824.5 532.6 L769.4 524.7 L770.0 522.4 L825.0 531.0Z" fill="#f8ddd5"/>
<path d="M831.3 523.3 L772.1 509.8 L778.1 495.8 L836.2 513.9Z" fill="#4a3230"/>
<path d="M834.2 517.5 L794.5 505.8 L796.9 501.0 L836.2 513.9Z" fill="#7a6e6f"/>
<path d="M831.3 523.3 L772.1 509.8 L775.6 501.2 L834.2 517.5Z" fill="#cc9e95"/>
<path d="M828.4 522.5 L773.9 510.2 L774.8 507.9 L829.1 520.9Z" fill="#f6d8d0"/>
<path d="M836.2 513.9 L778.1 495.8 L785.5 482.5 L842.1 505.0Z" fill="#513835"/>
<path d="M839.8 508.3 L801.1 493.5 L803.9 489.2 L842.1 505.0Z" fill="#6e5d5c"/>
<path d="M836.2 513.9 L778.1 495.8 L782.6 487.4 L839.8 508.3Z" fill="#cb9d94"/>
<path d="M833.4 512.8 L779.9 496.3 L781.0 494.1 L834.3 511.3Z" fill="#f4d4cc"/>
<path d="M842.1 505.0 L785.5 482.5 L794.2 470.1 L848.8 496.8Z" fill="#583d3a"/>
<path d="M846.3 499.7 L809.0 482.0 L812.0 478.1 L848.8 496.8Z" fill="#654d4b"/>
<path d="M842.1 505.0 L785.5 482.5 L790.9 474.4 L846.3 499.7Z" fill="#c99c93"/>
<path d="M839.3 503.8 L787.2 483.1 L788.6 481.0 L840.4 502.3Z" fill="#f3d0c7"/>
<path d="M848.8 496.8 L794.2 470.1 L804.2 458.5 L856.4 489.3Z" fill="#5f423f"/>
<path d="M848.8 496.8 L794.2 470.1 L800.6 462.4 L853.7 491.8Z" fill="#c79b92"/>
<path d="M846.1 495.4 L795.9 470.8 L797.5 468.8 L847.4 494.0Z" fill="#f1ccc2"/>
<path d="M856.4 489.3 L804.2 458.5 L815.3 448.0 L864.8 482.5Z" fill="#664844"/>
<path d="M856.4 489.3 L804.2 458.5 L811.6 451.3 L861.9 484.6Z" fill="#c69990"/>
<path d="M853.9 487.6 L805.8 459.4 L807.7 457.5 L855.3 486.4Z" fill="#f0c8be"/>
<path d="M864.8 482.5 L815.3 448.0 L827.6 438.6 L873.9 476.6Z" fill="#694a46"/>
<path d="M864.8 482.5 L815.3 448.0 L823.5 441.6 L870.8 478.4Z" fill="#c59990"/>
<path d="M862.4 480.7 L816.9 449.0 L818.9 447.3 L864.0 479.6Z" fill="#efc7bd"/>
<path d="M873.9 476.6 L827.6 438.6 L840.8 430.4 L883.6 471.5Z" fill="#6a4b47"/>
<path d="M873.9 476.6 L827.6 438.6 L836.3 433.0 L880.3 473.1Z" fill="#c69a91"/>
<path d="M871.7 474.6 L829.1 439.7 L831.3 438.2 L873.3 473.6Z" fill="#f0c8be"/>
<path d="M883.6 471.5 L840.8 430.4 L855.0 423.5 L893.9 467.3Z" fill="#6b4c48"/>
<path d="M883.6 471.5 L840.8 430.4 L850.1 425.7 L890.3 468.6Z" fill="#c79b92"/>
<path d="M881.6 469.3 L842.2 431.6 L844.5 430.3 L883.4 468.5Z" fill="#f1c9bf"/>
<path d="M893.9 467.3 L855.0 423.5 L869.9 417.8 L904.7 464.0Z" fill="#6b4d49"/>
<path d="M893.9 467.3 L855.0 423.5 L864.6 419.6 L900.9 465.0Z" fill="#c79b93"/>
<path d="M892.1 465.0 L856.2 424.7 L858.7 423.7 L893.9 464.4Z" fill="#f1cac1"/>
<path d="M904.7 464.0 L869.9 417.8 L885.4 413.5 L915.9 461.7Z" fill="#6c4e4a"/>
<path d="M904.7 464.0 L869.9 417.8 L879.8 414.9 L911.9 462.4Z" fill="#c89c93"/>
<path d="M903.1 461.6 L871.0 419.2 L873.5 418.4 L905.0 461.2Z" fill="#f2ccc2"/>
<path d="M915.9 461.7 L885.4 413.5 L901.5 410.6 L927.5 460.3Z" fill="#6d4f4b"/>
<path d="M915.9 461.7 L885.4 413.5 L895.6 411.5 L923.2 460.7Z" fill="#c99d94"/>
<path d="M914.6 459.2 L886.4 414.9 L889.0 414.4 L916.5 458.9Z" fill="#f3cdc4"/>
<path d="M927.5 460.3 L901.5 410.6 L918.0 409.1 L939.2 460.0Z" fill="#6d504c"/>
<path d="M927.5 460.3 L901.5 410.6 L911.8 409.5 L934.8 460.0Z" fill="#c99d95"/>
<path d="M926.3 457.8 L902.4 412.1 L905.0 411.8 L928.3 457.7Z" fill="#f3cec5"/>
<path d="M939.2 460.0 L918.0 409.1 L934.8 409.0 L951.1 460.6Z" fill="#6e514d"/>
<path d="M939.2 460.0 L918.0 409.1 L928.3 408.9 L946.5 460.3Z" fill="#ca9e96"/>
<path d="M938.3 457.4 L918.7 410.6 L921.4 410.5 L940.2 457.5Z" fill="#f4d0c7"/>
<path d="M951.1 460.6 L934.8 409.0 L951.6 410.4 L962.9 462.3Z" fill="#6f524e"/>
<path d="M951.1 460.6 L934.8 409.0 L945.0 409.7 L958.2 461.5Z" fill="#cb9f97"/>
<path d="M950.4 458.1 L935.4 410.6 L938.0 410.7 L952.3 458.2Z" fill="#f5d1c8"/>
<path d="M962.9 462.3 L951.6 410.4 L968.5 413.2 L974.8 464.9Z" fill="#6e514d"/>
<path d="M962.9 462.3 L951.6 410.4 L961.7 411.9 L970.0 463.7Z" fill="#cb9f97"/>
<path d="M962.5 459.7 L952.1 412.0 L954.7 412.3 L964.4 460.0Z" fill="#f4d1c8"/>
<path d="M974.8 464.9 L968.5 413.2 L985.3 417.3 L986.4 468.4Z" fill="#6d504c"/>
<path d="M974.8 464.9 L968.5 413.2 L978.4 415.4 L981.7 466.8Z" fill="#cc9f97"/>
<path d="M974.6 462.3 L968.8 414.7 L971.4 415.3 L976.5 462.8Z" fill="#f3cfc5"/>
<path d="M986.4 468.4 L985.3 417.3 L1001.7 422.8 L997.8 472.9Z" fill="#6c4f4b"/>
<path d="M986.4 468.4 L985.3 417.3 L994.9 420.4 L993.1 470.9Z" fill="#cda097"/>
<path d="M986.5 465.9 L985.4 418.9 L987.9 419.6 L988.3 466.5Z" fill="#f2ccc3"/>
<path d="M997.8 472.9 L1001.7 422.8 L1017.8 429.7 L1008.9 478.2Z" fill="#6b4e4a"/>
<path d="M997.8 472.9 L1001.7 422.8 L1011.0 426.6 L1004.2 475.8Z" fill="#cda097"/>
<path d="M998.2 470.4 L1001.7 424.4 L1004.1 425.3 L999.9 471.2Z" fill="#f1cac0"/>
<path d="M1008.9 478.2 L1017.8 429.7 L1033.3 437.8 L1019.5 484.4Z" fill="#694c48"/>
<path d="M1008.9 478.2 L1017.8 429.7 L1026.6 434.1 L1014.9 481.6Z" fill="#cea098"/>
<path d="M1009.5 475.9 L1017.6 431.2 L1019.9 432.3 L1011.1 476.8Z" fill="#f0c8be"/>
<path d="M1019.5 484.4 L1033.3 437.8 L1048.1 447.0 L1029.6 491.4Z" fill="#684b47"/>
<path d="M1019.5 484.4 L1033.3 437.8 L1041.6 442.8 L1025.2 488.2Z" fill="#cfa098"/>
<path d="M1020.3 482.2 L1033.0 439.2 L1035.1 440.5 L1021.9 483.2Z" fill="#efc5bb"/>
<path d="M1029.6 491.4 L1048.1 447.0 L1062.2 457.4 L1039.1 499.2Z" fill="#674a46"/>
<path d="M1029.6 491.4 L1048.1 447.0 L1056.0 452.6 L1034.9 495.6Z" fill="#cfa198"/>
<path d="M1030.7 489.3 L1047.7 448.4 L1049.7 449.8 L1032.1 490.4Z" fill="#edc3b9"/>
<path d="M1039.1 499.2 L1062.2 457.4 L1075.4 468.9 L1047.9 507.6Z" fill="#654844"/>
<path d="M1039.1 499.2 L1062.2 457.4 L1069.5 463.5 L1043.9 503.6Z" fill="#d0a198"/>
<path d="M1040.4 497.2 L1061.6 458.7 L1063.5 460.3 L1041.7 498.4Z" fill="#ecc0b7"/>
<path d="M1047.9 507.6 L1075.4 468.9 L1087.5 481.2 L1055.9 516.6Z" fill="#664844"/>
<path d="M1047.9 507.6 L1075.4 468.9 L1082.0 475.4 L1052.3 512.3Z" fill="#d1a198"/>
<path d="M1049.4 505.8 L1074.6 470.1 L1076.4 471.7 L1050.6 507.0Z" fill="#edc1b7"/>
<path d="M1055.9 516.6 L1087.5 481.2 L1098.6 494.5 L1063.2 526.2Z" fill="#664945"/>
<path d="M1055.9 516.6 L1087.5 481.2 L1093.5 488.1 L1059.8 521.6Z" fill="#d2a299"/>
<path d="M1057.6 515.0 L1086.7 482.4 L1088.2 484.1 L1058.7 516.3Z" fill="#eec3b9"/>
<path d="M1063.2 526.2 L1098.6 494.5 L1108.5 508.4 L1069.5 536.2Z" fill="#674945"/>
<path d="M1063.2 526.2 L1098.6 494.5 L1103.9 501.6 L1066.6 531.3Z" fill="#d3a299"/>
<path d="M1065.0 524.7 L1097.6 495.5 L1099.0 497.3 L1066.0 526.1Z" fill="#eec4ba"/>
<path d="M1069.5 536.2 L1108.5 508.4 L1117.1 523.0 L1074.9 546.5Z" fill="#684945"/>
<path d="M1069.5 536.2 L1108.5 508.4 L1113.1 515.9 L1072.5 541.5Z" fill="#d4a39a"/>
<path d="M1071.6 534.9 L1107.4 509.3 L1108.6 511.3 L1072.4 536.3Z" fill="#efc5bb"/>
<path d="M1074.9 546.5 L1117.1 523.0 L1124.4 538.1 L1079.4 557.2Z" fill="#694a46"/>
<path d="M1074.9 546.5 L1117.1 523.0 L1121.1 530.8 L1077.4 552.1Z" fill="#d5a39a"/>
<path d="M1077.2 545.5 L1115.9 523.8 L1117.0 525.8 L1077.8 547.0Z" fill="#f0c7bd"/>
<path d="M1079.4 557.2 L1124.4 538.1 L1130.3 553.6 L1082.9 568.1Z" fill="#694a46"/>
<path d="M1079.4 557.2 L1124.4 538.1 L1127.6 546.1 L1081.3 562.9Z" fill="#d6a49b"/>
<path d="M1081.7 556.4 L1123.1 538.7 L1124.0 540.8 L1082.3 557.9Z" fill="#f1c8be"/>
<path d="M1082.9 568.1 L1130.3 553.6 L1134.7 569.3 L1085.3 579.1Z" fill="#6a4a46"/>
<path d="M1082.9 568.1 L1130.3 553.6 L1132.8 561.7 L1084.3 573.8Z" fill="#d7a49b"/>
<path d="M1085.3 567.5 L1128.9 554.1 L1129.6 556.2 L1085.7 569.0Z" fill="#f2c9bf"/>
<path d="M1085.3 579.1 L1134.7 569.3 L1137.7 585.2 L1086.7 590.2Z" fill="#6b4b47"/>
<path d="M1085.3 579.1 L1134.7 569.3 L1136.4 577.5 L1086.1 584.9Z" fill="#d8a59c"/>
<path d="M1087.8 578.8 L1133.3 569.7 L1133.8 571.8 L1088.1 580.3Z" fill="#f3cac0"/>
<path d="M1086.7 590.2 L1137.7 585.2 L1139.1 601.0 L1087.0 601.1Z" fill="#6a4a46"/>
<path d="M1086.7 590.2 L1137.7 585.2 L1138.6 593.6 L1087.0 596.0Z" fill="#d7a49c"/>
<path d="M1089.3 590.1 L1136.2 585.4 L1136.5 587.6 L1089.4 591.6Z" fill="#f4cdc3"/>
<path d="M1087.0 601.1 L1139.1 601.0 L1139.1 616.8 L1086.2 612.0Z" fill="#694945"/>
<path d="M1087.0 601.1 L1139.1 601.0 L1139.3 609.7 L1086.7 607.1Z" fill="#d5a39a"/>
<path d="M1089.6 601.3 L1137.6 601.1 L1137.7 603.4 L1089.6 602.9Z" fill="#f5d1c8"/>
<path d="M1086.2 612.0 L1139.1 616.8 L1137.5 632.3 L1084.4 622.6Z" fill="#684743"/>
<path d="M1086.2 612.0 L1139.1 616.8 L1138.4 625.6 L1085.3 618.0Z" fill="#d4a299"/>
<path d="M1088.9 612.4 L1137.5 616.7 L1137.4 619.0 L1088.7 614.0Z" fill="#f6d5cc"/>
<path d="M1084.4 622.6 L1137.5 632.3 L1134.4 647.4 L1081.5 632.9Z" fill="#664642"/>
<path d="M1084.4 622.6 L1137.5 632.3 L1135.9 641.2 L1082.9 628.6Z" fill="#d2a198"/>
<path d="M1087.1 623.2 L1135.9 632.1 L1135.5 634.4 L1086.7 624.8Z" fill="#f7d9d1"/>
<path d="M1081.5 632.9 L1134.4 647.4 L1129.9 662.1 L1077.7 642.7Z" fill="#654440"/>
<path d="M1081.5 632.9 L1134.4 647.4 L1131.9 656.3 L1079.3 638.9Z" fill="#d0a097"/>
<path d="M1084.2 633.7 L1132.8 647.1 L1132.2 649.4 L1083.6 635.3Z" fill="#f9ddd5"/>
<path d="M1077.7 642.7 L1129.9 662.1 L1123.9 676.1 L1072.8 652.1Z" fill="#64433f"/>
<path d="M1077.7 642.7 L1129.9 662.1 L1126.3 670.8 L1074.7 648.6Z" fill="#ce9f96"/>
<path d="M1080.2 643.8 L1128.3 661.6 L1127.4 663.8 L1079.5 645.4Z" fill="#fae0d9"/>
<path d="M1072.8 652.1 L1123.9 676.1 L1116.5 689.4 L1066.9 661.0Z" fill="#62413d"/>
<path d="M1072.8 652.1 L1123.9 676.1 L1119.3 684.7 L1069.2 657.9Z" fill="#cd9e95"/>
<path d="M1075.3 653.5 L1122.3 675.4 L1121.2 677.7 L1074.4 655.0Z" fill="#fbe4dd"/>
<path d="M1116.51 689.37 A195.17 169.45 32.00 1 1 785.49 482.53 A195.17 169.45 32.00 1 1 1116.51 689.37 Z" fill="none" stroke="#dd9a8e" stroke-width="3.5"/>
<path d="M1075.71 653.13 A140.04 120.73 30.00 1 1 833.15 513.08 A140.04 120.73 30.00 1 1 1075.71 653.13 Z" fill="#a4554b" />
<path d="M1073.15 651.50 A137.00 118.00 30.00 1 1 835.85 514.50 A137.00 118.00 30.00 1 1 1073.15 651.50 Z" fill="url(#midg)" />
<path d="M1069.48 649.17 A132.65 114.10 30.00 1 1 839.72 516.53 A132.65 114.10 30.00 1 1 1069.48 649.17 Z" fill="none" stroke="#f0b8ac" stroke-width="3.5"/>
<path d="M1063.61 645.46 A125.69 107.86 30.00 1 1 845.91 519.76 A125.69 107.86 30.00 1 1 1063.61 645.46 Z" fill="#a4554b" />
<path d="M1063.61 645.46 A125.69 107.86 30.00 1 1 845.91 519.76 A125.69 107.86 30.00 1 1 1063.61 645.46 Z" fill="#6a4644" />
<path d="M1012.4 630.7 L1062.6 652.0 L1049.5 667.7 L1003.3 638.9Z" fill="#5d3c38"/>
<path d="M1012.4 630.7 L1062.6 652.0 L1053.4 663.7 L1006.0 636.8Z" fill="#ca9c94"/>
<path d="M1014.8 632.0 L1061.0 651.5 L1058.8 654.7 L1013.2 633.7Z" fill="#fdeae5"/>
<path d="M1003.3 638.9 L1049.5 667.7 L1033.2 680.5 L992.5 645.2Z" fill="#5f3d39"/>
<path d="M1003.3 638.9 L1049.5 667.7 L1037.9 677.4 L995.6 643.7Z" fill="#c79a92"/>
<path d="M1005.5 640.5 L1048.0 667.0 L1045.2 669.6 L1003.5 641.9Z" fill="#fff1ed"/>
<path d="M992.5 645.2 L1033.2 680.5 L1014.2 689.9 L980.4 649.4Z" fill="#62403c"/>
<path d="M992.5 645.2 L1033.2 680.5 L1019.5 687.8 L983.7 648.5Z" fill="#c99c94"/>
<path d="M994.3 647.1 L1031.9 679.5 L1028.5 681.6 L992.1 648.1Z" fill="#fff4f1"/>
<path d="M980.4 649.4 L1014.2 689.9 L993.2 695.7 L967.3 651.3Z" fill="#65433f"/>
<path d="M980.4 649.4 L1014.2 689.9 L999.0 694.6 L970.8 651.0Z" fill="#cb9e96"/>
<path d="M981.8 651.5 L1013.1 688.8 L1009.2 690.2 L979.3 652.1Z" fill="#fff8f5"/>
<path d="M967.3 651.3 L993.2 695.7 L970.9 697.7 L953.7 650.9Z" fill="#694743"/>
<path d="M957.3 651.2 L969.3 682.9 L964.1 682.8 L953.7 650.9Z" fill="#775c59"/>
<path d="M967.3 651.3 L993.2 695.7 L976.9 697.6 L957.3 651.2Z" fill="#cda098"/>
<path d="M968.3 653.6 L992.3 694.5 L988.1 695.1 L965.7 653.7Z" fill="#fffbf9"/>
<path d="M953.7 650.9 L970.9 697.7 L948.0 695.7 L940.2 648.2Z" fill="#6c4b46"/>
<path d="M943.7 649.1 L949.4 681.3 L944.2 680.4 L940.2 648.2Z" fill="#928281"/>
<path d="M953.7 650.9 L970.9 697.7 L954.0 696.6 L943.7 649.1Z" fill="#cfa39b"/>
<path d="M954.3 653.2 L970.2 696.3 L965.9 696.2 L951.6 652.9Z" fill="#fffefe"/>
<path d="M940.2 648.2 L948.0 695.7 L925.4 689.9 L927.0 643.2Z" fill="#62433f"/>
<path d="M930.5 644.8 L929.8 676.5 L924.6 674.6 L927.0 643.2Z" fill="#a8a5a7"/>
<path d="M940.2 648.2 L948.0 695.7 L931.4 691.8 L930.5 644.8Z" fill="#d0a39b"/>
<path d="M940.3 650.5 L947.6 694.3 L943.3 693.5 L937.6 649.7Z" fill="#fefaf9"/>
<path d="M927.0 643.2 L925.4 689.9 L903.7 680.4 L914.7 636.3Z" fill="#553834"/>
<path d="M918.0 638.4 L911.0 668.5 L906.0 665.7 L914.7 636.3Z" fill="#acabae"/>
<path d="M927.0 643.2 L925.4 689.9 L909.6 683.4 L918.0 638.4Z" fill="#d2a49b"/>
<path d="M926.6 645.5 L925.3 688.5 L921.2 687.0 L924.2 644.3Z" fill="#fdf3f0"/>
<path d="M914.7 636.3 L903.7 680.4 L883.8 667.6 L903.8 627.5Z" fill="#472d2a"/>
<path d="M906.8 630.2 L893.8 657.7 L889.1 654.0 L903.8 627.5Z" fill="#b0b1b4"/>
<path d="M914.7 636.3 L903.7 680.4 L889.4 671.7 L906.8 630.2Z" fill="#d4a49c"/>
<path d="M913.9 638.3 L903.9 679.0 L900.1 676.9 L911.7 636.8Z" fill="#fcece8"/>
<path d="M903.8 627.5 L883.8 667.6 L866.3 652.0 L894.5 617.2Z" fill="#3a2220"/>
<path d="M897.1 620.4 L878.5 644.4 L874.3 639.9 L894.5 617.2Z" fill="#b5b7bb"/>
<path d="M903.8 627.5 L883.8 667.6 L871.3 657.0 L897.1 620.4Z" fill="#d6a59c"/>
<path d="M902.5 629.3 L884.3 666.3 L880.9 663.7 L900.6 627.5Z" fill="#fbe6e0"/>
<path d="M894.5 617.2 L866.3 652.0 L851.9 633.9 L887.2 605.7Z" fill="#351f1d"/>
<path d="M889.2 609.4 L865.8 629.0 L862.3 623.8 L887.2 605.7Z" fill="#bbbfc3"/>
<path d="M894.5 617.2 L866.3 652.0 L856.0 639.7 L889.2 609.4Z" fill="#d6a59c"/>
<path d="M892.9 618.7 L867.0 650.8 L864.3 647.7 L891.3 616.6Z" fill="#fce9e3"/>
<path d="M887.2 605.7 L851.9 633.9 L840.9 614.1 L882.1 593.4Z" fill="#311d1b"/>
<path d="M883.5 597.4 L855.9 612.1 L853.5 606.3 L882.1 593.4Z" fill="#b9bcc0"/>
<path d="M887.2 605.7 L851.9 633.9 L844.0 620.6 L883.5 597.4Z" fill="#d6a49b"/>
<path d="M885.2 606.9 L852.8 632.9 L850.6 629.6 L884.1 604.7Z" fill="#fdebe5"/>
<path d="M882.1 593.4 L840.9 614.1 L833.8 593.3 L879.5 580.8Z" fill="#2e1a19"/>
<path d="M880.1 585.0 L849.4 594.2 L848.0 588.1 L879.5 580.8Z" fill="#b5b8bc"/>
<path d="M882.1 593.4 L840.9 614.1 L835.7 600.2 L880.1 585.0Z" fill="#d6a49b"/>
<path d="M879.9 594.2 L842.0 613.3 L840.5 609.8 L879.3 592.0Z" fill="#feeee8"/>
<path d="M879.5 580.8 L833.8 593.3 L830.8 572.0 L879.3 568.3Z" fill="#2a1817"/>
<path d="M879.1 572.5 L846.4 575.9 L846.2 569.6 L879.3 568.3Z" fill="#b1b3b7"/>
<path d="M879.5 580.8 L833.8 593.3 L831.3 579.2 L879.1 572.5Z" fill="#d6a49b"/>
<path d="M877.1 581.2 L835.1 592.7 L834.3 589.1 L876.9 578.9Z" fill="#fff0ea"/>
<path d="M879.3 568.3 L830.8 572.0 L832.0 551.2 L881.7 556.3Z" fill="#382220"/>
<path d="M880.7 560.2 L847.0 557.5 L848.0 551.6 L881.7 556.3Z" fill="#afb0b4"/>
<path d="M879.3 568.3 L830.8 572.0 L831.1 558.0 L880.7 560.2Z" fill="#d2a299"/>
<path d="M876.9 568.2 L832.2 571.8 L832.1 568.1 L877.1 566.0Z" fill="#fce7e0"/>
<path d="M881.7 556.3 L832.0 551.2 L837.4 531.4 L886.5 545.2Z" fill="#452b29"/>
<path d="M884.7 548.6 L851.3 540.0 L853.5 534.6 L886.5 545.2Z" fill="#90898a"/>
<path d="M881.7 556.3 L832.0 551.2 L835.2 537.6 L884.7 548.6Z" fill="#cf9f96"/>
<path d="M879.3 555.8 L833.5 551.2 L834.2 547.6 L879.9 553.6Z" fill="#f8ded7"/>
<path d="M886.5 545.2 L837.4 531.4 L846.8 513.4 L893.6 535.3Z" fill="#523431"/>
<path d="M891.1 538.3 L859.2 524.0 L862.4 519.3 L893.6 535.3Z" fill="#786665"/>
<path d="M886.5 545.2 L837.4 531.4 L843.4 518.8 L891.1 538.3Z" fill="#cb9d94"/>
<path d="M884.1 544.2 L838.9 531.7 L840.3 528.3 L885.3 542.3Z" fill="#f5d6cd"/>
<path d="M893.6 535.3 L846.8 513.4 L859.9 497.7 L902.7 527.1Z" fill="#5f3d3a"/>
<path d="M899.7 529.5 L870.4 510.0 L874.4 506.2 L902.7 527.1Z" fill="#6d514f"/>
<path d="M893.6 535.3 L846.8 513.4 L855.5 502.2 L899.7 529.5Z" fill="#c89b92"/>
<path d="M891.4 534.0 L848.3 513.9 L850.4 510.9 L892.9 532.3Z" fill="#f2cdc4"/>
<path d="M902.7 527.1 L859.9 497.7 L876.2 484.9 L913.5 520.8Z" fill="#6b4541"/>
<path d="M902.7 527.1 L859.9 497.7 L871.0 488.4 L910.1 522.5Z" fill="#c59990"/>
<path d="M900.7 525.5 L861.3 498.4 L864.0 495.9 L902.6 524.1Z" fill="#efc6bc"/>
<path d="M913.5 520.8 L876.2 484.9 L895.2 475.5 L925.6 516.6Z" fill="#6e4743"/>
<path d="M913.5 520.8 L876.2 484.9 L889.4 477.8 L922.0 517.6Z" fill="#c69a92"/>
<path d="M911.8 518.9 L877.4 485.9 L880.7 483.9 L914.0 517.9Z" fill="#f0c9bf"/>
<path d="M925.6 516.6 L895.2 475.5 L916.2 469.7 L938.7 514.7Z" fill="#724a45"/>
<path d="M925.6 516.6 L895.2 475.5 L910.1 470.9 L934.9 515.0Z" fill="#c89c93"/>
<path d="M924.3 514.5 L896.2 476.6 L900.0 475.3 L926.8 513.9Z" fill="#f2ccc2"/>
<path d="M938.7 514.7 L916.2 469.7 L938.5 467.7 L952.3 515.1Z" fill="#764c47"/>
<path d="M938.7 514.7 L916.2 469.7 L932.3 467.9 L948.5 514.8Z" fill="#c99d95"/>
<path d="M937.8 512.4 L917.0 471.0 L921.1 470.3 L940.5 512.3Z" fill="#f3cec5"/>
<path d="M952.3 515.1 L938.5 467.7 L961.4 469.7 L965.8 517.8Z" fill="#7a4e49"/>
<path d="M952.3 515.1 L938.5 467.7 L955.4 468.8 L962.3 516.9Z" fill="#cb9f97"/>
<path d="M951.9 512.7 L939.1 469.1 L943.4 469.2 L954.6 513.1Z" fill="#f5d1c8"/>
<path d="M965.8 517.8 L961.4 469.7 L984.0 475.5 L979.0 522.8Z" fill="#6e4641"/>
<path d="M965.8 517.8 L961.4 469.7 L978.1 473.6 L975.6 521.3Z" fill="#cc9f97"/>
<path d="M965.9 515.5 L961.7 471.1 L966.0 472.0 L968.6 516.2Z" fill="#f3cec5"/>
<path d="M979.0 522.8 L984.0 475.5 L1005.7 485.0 L991.3 529.7Z" fill="#5c3b37"/>
<path d="M979.0 522.8 L984.0 475.5 L1000.1 482.1 L988.1 527.7Z" fill="#cda097"/>
<path d="M979.5 520.5 L984.0 477.0 L988.2 478.5 L982.1 521.7Z" fill="#f1c9c0"/>
<path d="M991.3 529.7 L1005.7 485.0 L1025.6 497.8 L1002.2 538.5Z" fill="#4a302d"/>
<path d="M991.3 529.7 L1005.7 485.0 L1020.4 494.0 L999.5 536.0Z" fill="#cfa098"/>
<path d="M992.3 527.6 L1005.4 486.4 L1009.3 488.6 L994.5 529.2Z" fill="#eec5bb"/>
<path d="M1002.2 538.5 L1025.6 497.8 L1043.1 513.4 L1011.5 548.8Z" fill="#3b2523"/>
<path d="M1002.2 538.5 L1025.6 497.8 L1038.6 508.9 L1009.2 545.9Z" fill="#d0a198"/>
<path d="M1003.6 536.7 L1025.0 499.1 L1028.5 501.8 L1005.6 538.6Z" fill="#ecc0b6"/>
<path d="M1011.5 548.8 L1043.1 513.4 L1057.5 531.5 L1018.8 560.3Z" fill="#432b29"/>
<path d="M1011.5 548.8 L1043.1 513.4 L1053.9 526.4 L1017.0 557.1Z" fill="#d2a299"/>
<path d="M1013.3 547.3 L1042.3 514.6 L1045.2 517.8 L1014.9 549.4Z" fill="#eec3b9"/>
<path d="M1018.8 560.3 L1057.5 531.5 L1068.5 551.3 L1023.9 572.6Z" fill="#4b312e"/>
<path d="M1018.8 560.3 L1057.5 531.5 L1065.9 545.7 L1022.7 569.1Z" fill="#d4a39a"/>
<path d="M1020.9 559.1 L1056.5 532.5 L1058.8 536.1 L1022.1 561.4Z" fill="#f0c6bc"/>
<path d="M1023.9 572.6 L1068.5 551.3 L1075.6 572.1 L1026.5 585.2Z" fill="#533632"/>
<path d="M1023.9 572.6 L1068.5 551.3 L1074.1 566.3 L1026.0 581.7Z" fill="#d6a49b"/>
<path d="M1026.2 571.8 L1067.3 552.1 L1068.9 555.9 L1027.0 574.2Z" fill="#f1c9bf"/>
<path d="M1026.5 585.2 L1075.6 572.1 L1078.6 593.4 L1026.7 597.7Z" fill="#5a3b37"/>
<path d="M1026.5 585.2 L1075.6 572.1 L1078.2 587.4 L1026.9 594.2Z" fill="#d8a59c"/>
<path d="M1029.0 584.8 L1074.2 572.7 L1075.1 576.6 L1029.3 587.2Z" fill="#f3cbc1"/>
<path d="M1026.7 597.7 L1078.6 593.4 L1077.4 614.2 L1024.3 609.7Z" fill="#5b3b37"/>
<path d="M1026.7 597.7 L1078.6 593.4 L1078.2 608.5 L1025.2 606.5Z" fill="#d4a39a"/>
<path d="M1029.3 597.8 L1077.1 593.7 L1077.2 597.6 L1029.0 600.1Z" fill="#f6d3ca"/>
<path d="M1024.3 609.7 L1077.4 614.2 L1072.0 634.0 L1019.5 620.8Z" fill="#5c3b37"/>
<path d="M1024.3 609.7 L1077.4 614.2 L1073.9 628.7 L1021.0 617.9Z" fill="#d1a098"/>
<path d="M1026.9 610.2 L1075.8 614.2 L1075.1 618.0 L1026.2 612.5Z" fill="#f8dbd3"/>
<path d="M1019.5 620.8 L1072.0 634.0 L1062.6 652.0 L1012.4 630.7Z" fill="#5d3c38"/>
<path d="M1019.5 620.8 L1072.0 634.0 L1065.5 647.3 L1014.6 628.1Z" fill="#cd9e96"/>
<path d="M1022.0 621.7 L1070.4 633.8 L1068.9 637.3 L1020.8 623.8Z" fill="#fbe3dc"/>
<path d="M1019.25 621.25 A76.50 65.50 30.00 1 1 886.75 544.75 A76.50 65.50 30.00 1 1 1019.25 621.25 Z" fill="#c47a6e" />
<path d="M1014.87 619.30 A72.60 61.60 30.00 1 1 889.13 546.70 A72.60 61.60 30.00 1 1 1014.87 619.30 Z" fill="url(#domeg)" />
<clipPath id="dc1"><path d="M1014.87 619.30 A72.60 61.60 30.00 1 1 889.13 546.70 A72.60 61.60 30.00 1 1 1014.87 619.30 Z" fill="#000" /></clipPath>
<g clip-path="url(#dc1)">
<path d="M966.0 560.0 L862.0 553.0 L862.0 493.0 L1042.0 493.0 L1012.0 531.0 Z" fill="url(#domeTop)"/>
<path d="M966.0 560.0 L1012.0 531.0 L1047.0 523.0 L1047.0 673.0 L976.0 663.0 Z" fill="url(#domeRight)"/>
<g filter="url(#soft)">
<path d="M966.0 561.0 L862.0 554.0" stroke="#a08a85" stroke-width="6" opacity="0.9" fill="none"/>
<path d="M969.0 562.0 Q976.0 603.0 977.0 663.0" stroke="#9d837d" stroke-width="8.5" opacity="0.9" fill="none"/>
<path d="M966.0 560.0 L1012.0 531.0" stroke="#b39c96" stroke-width="5" opacity="0.85" fill="none"/>
</g>
</g>
<path d="M1014.87 619.30 A72.60 61.60 30.00 1 1 889.13 546.70 A72.60 61.60 30.00 1 1 1014.87 619.30 Z" fill="none" stroke="#c07d71" stroke-width="2.5" opacity="0.9"/>
</g></g></g>
<g>
<path d="M688.3 638.4 L689.9 628.9 L692.0 619.6 L694.8 610.5 L698.1 601.6 L730.8 518.3 L734.6 508.7 L739.1 499.3 L744.0 490.3 L749.5 481.6 L755.6 473.2 L762.1 465.1 L769.1 457.5 L776.6 450.2 L784.5 443.4 L792.9 437.0 L801.6 431.1 L810.7 425.7 L820.2 420.7 L830.0 416.3 L840.1 412.4 L850.5 409.0 L861.1 406.1 L871.9 403.8 L882.9 402.0 L894.1 400.8 L905.4 400.2 L916.8 400.1 L928.2 400.6 L939.7 401.6 L951.2 403.2 L962.6 405.4 L974.0 408.1 L985.3 411.3 L996.4 415.1 L1007.4 419.4 L1018.2 424.2 L1028.8 429.5 L1039.2 435.3 L1049.3 441.5 L1059.0 448.2 L1068.5 455.4 L1077.6 462.9 L1086.3 470.8 L1094.6 479.1 L1102.4 487.8 L1109.9 496.7 L1116.8 506.0 L1123.3 515.5 L1129.3 525.3 L1134.7 535.3 L1139.6 545.5 L1144.0 555.8 L1147.8 566.3 L1151.0 576.9 L1153.7 587.6 L1155.7 598.3 L1157.2 609.0 L1159.7 637.9 L1160.5 647.9 L1160.7 657.8 L1160.3 667.6 L1159.3 677.4 L1157.7 687.0 L1155.4 696.5 L1152.5 705.7 L1149.1 714.8 L1145.0 723.7 L1140.4 732.3 L1135.2 740.6 L1129.5 748.6 L1123.2 756.3 L1083.8 800.9 L1077.3 808.2 L1070.3 815.1 L1062.9 821.7 L1055.0 827.9 L1046.7 833.7 L1038.0 839.1 L1028.9 844.0 L1019.5 848.5 L1009.8 852.5 L999.8 856.1 L989.5 859.2 L979.0 861.7 L968.2 863.8 L957.3 865.4 L946.3 866.5 L935.1 867.1 L923.9 867.2 L912.6 866.7 L901.2 865.8 L889.9 864.3 L878.6 862.3 L867.4 859.9 L856.3 856.9 L845.3 853.5 L834.4 849.6 L823.8 845.2 L813.3 840.4 L803.2 835.1 L793.2 829.4 L783.6 823.3 L774.4 816.8 L765.4 810.0 L756.9 802.8 L748.7 795.2 L741.0 787.4 L733.7 779.2 L726.9 770.8 L720.6 762.1 L714.8 753.2 L709.5 744.1 L704.7 734.9 L700.5 725.5 L696.8 715.9 L693.7 706.3 L691.1 696.6 L689.2 686.8 L687.8 677.1 L687.0 667.3 L686.9 657.6 L687.3 648.0Z" fill="#000" opacity="0.92" filter="url(#sh)"/>
<path d="M698.1 601.6 L720.1 546.6 L724.2 537.7 L728.8 529.1 L734.0 520.8 L739.7 512.8 L746.0 505.1 L752.8 497.8 L760.1 490.8 L767.8 484.2 L776.1 478.0 L784.7 472.2 L793.8 466.9 L803.2 462.0 L813.0 457.6 L823.2 453.6 L833.6 450.1 L844.4 447.2 L855.4 444.7 L866.6 442.7 L877.9 441.3 L889.5 440.4 L901.1 439.9 L912.9 440.1 L924.7 440.7 L936.5 441.9 L948.4 443.5 L960.2 445.7 L971.9 448.4 L983.5 451.6 L995.0 455.3 L1006.3 459.5 L1017.4 464.1 L1028.3 469.2 L1039.0 474.7 L1049.3 480.7 L1059.4 487.1 L1069.1 493.8 L1078.4 501.0 L1087.4 508.5 L1095.9 516.3 L1103.9 524.5 L1111.6 532.9 L1118.7 541.6 L1125.3 550.6 L1131.4 559.7 L1137.0 569.1 L1142.0 578.6 L1146.4 588.3 L1150.3 598.1 L1153.5 608.0 L1156.2 617.9 L1158.3 627.9 L1159.7 637.9 L1160.5 647.9 L1160.7 657.8 L1160.3 667.6 L1159.3 677.4 L1157.7 687.0 L1155.4 696.5 L1152.5 705.7 L1149.1 714.8 L1145.0 723.7 L1140.4 732.3 L1135.2 740.6 L1129.5 748.6 L1123.2 756.3 L1083.8 800.9 L1077.3 808.2 L1070.3 815.1 L1062.9 821.7 L1055.0 827.9 L1046.7 833.7 L1038.0 839.1 L1028.9 844.0 L1019.5 848.5 L1009.8 852.5 L999.8 856.1 L989.5 859.2 L979.0 861.7 L968.2 863.8 L957.3 865.4 L946.3 866.5 L935.1 867.1 L923.9 867.2 L912.6 866.7 L901.2 865.8 L889.9 864.3 L878.6 862.3 L867.4 859.9 L856.3 856.9 L845.3 853.5 L834.4 849.6 L823.8 845.2 L813.3 840.4 L803.2 835.1 L793.2 829.4 L783.6 823.3 L774.4 816.8 L765.4 810.0 L756.9 802.8 L748.7 795.2 L741.0 787.4 L733.7 779.2 L726.9 770.8 L720.6 762.1 L714.8 753.2 L709.5 744.1 L704.7 734.9 L700.5 725.5 L696.8 715.9 L693.7 706.3 L691.1 696.6 L689.2 686.8 L687.8 677.1 L687.0 667.3 L686.9 657.6 L687.3 648.0 L688.3 638.4 L689.9 628.9 L692.0 619.6 L694.8 610.5Z" fill="url(#bodyg)"/>
<path d="M1152.54 705.74 A230.50 185.50 19.00 1 1 716.66 555.66 A230.50 185.50 19.00 1 1 1152.54 705.74 Z" fill="#080404" />
<clipPath id="bt2"><path d="M1152.54 705.74 A230.50 185.50 19.00 1 1 716.66 555.66 A230.50 185.50 19.00 1 1 1152.54 705.74 Z" fill="#000" /></clipPath>
<g clip-path="url(#bt2)"><path d="M1166.04 705.04 A230.50 185.50 19.00 1 1 730.16 554.96 A230.50 185.50 19.00 1 1 1166.04 705.04 Z" fill="url(#lipg)" /></g>
<path d="M891 805.5 Q920 813.5 948 817" fill="none" stroke="#a9abad" stroke-width="8" stroke-linecap="round" opacity="0.95"/>
<path d="M1134.17 720.11 A226.40 197.20 30.50 1 1 744.03 490.29 A226.40 197.20 30.50 1 1 1134.17 720.11 Z" fill="url(#paleg)" />
<clipPath id="pc2"><path d="M1134.17 720.11 A226.40 197.20 30.50 1 1 744.03 490.29 A226.40 197.20 30.50 1 1 1134.17 720.11 Z" fill="#000" /></clipPath>
<g clip-path="url(#pc2)"><path d="M1125.42 702.75 A204.41 193.68 30.50 1 1 773.18 495.25 A204.41 193.68 30.50 1 1 1125.42 702.75 Z" fill="url(#teethg)" /></g>
</g>
<g>
<g clip-path="url(#pc2)">
<g>
<path d="M1122.91 695.64 A200.26 182.67 31.00 1 1 779.59 489.36 A200.26 182.67 31.00 1 1 1122.91 695.64 Z" fill="#8f3f38" />
<path d="M1119.13 693.32 A196.60 179.18 31.50 1 1 783.87 487.88 A196.60 179.18 31.50 1 1 1119.13 693.32 Z" fill="#d7978b" />
<path d="M1116.51 689.37 A195.17 169.45 32.00 1 1 785.49 482.53 A195.17 169.45 32.00 1 1 1116.51 689.37 Z" fill="#5a3a38" />
<path d="M1066.9 661.0 L1116.5 689.4 L1107.8 701.8 L1060.2 669.2Z" fill="#61403c"/>
<path d="M1066.9 661.0 L1116.5 689.4 L1110.9 697.7 L1062.6 666.5Z" fill="#cb9d94"/>
<path d="M1069.4 662.5 L1115.0 688.6 L1113.6 690.8 L1068.3 664.0Z" fill="#fce8e2"/>
<path d="M1060.2 669.2 L1107.8 701.8 L1097.8 713.4 L1052.6 676.7Z" fill="#603e3a"/>
<path d="M1060.2 669.2 L1107.8 701.8 L1101.2 709.7 L1055.2 674.4Z" fill="#c99c93"/>
<path d="M1062.5 670.9 L1106.3 700.9 L1104.7 703.0 L1061.2 672.3Z" fill="#fdece6"/>
<path d="M1052.6 676.7 L1097.8 713.4 L1086.7 723.9 L1044.2 683.5Z" fill="#5f3d39"/>
<path d="M1052.6 676.7 L1097.8 713.4 L1090.2 720.8 L1046.9 681.5Z" fill="#c89a92"/>
<path d="M1054.8 678.7 L1096.4 712.3 L1094.5 714.3 L1053.3 680.0Z" fill="#ffefea"/>
<path d="M1044.2 683.5 L1086.7 723.9 L1074.4 733.3 L1035.1 689.4Z" fill="#603e3a"/>
<path d="M1044.2 683.5 L1086.7 723.9 L1078.2 730.6 L1037.9 687.7Z" fill="#c79b93"/>
<path d="M1046.3 685.6 L1085.3 722.7 L1083.2 724.5 L1044.6 686.8Z" fill="#fff2ed"/>
<path d="M1035.1 689.4 L1074.4 733.3 L1061.2 741.5 L1025.4 694.5Z" fill="#65423e"/>
<path d="M1035.1 689.4 L1074.4 733.3 L1065.2 739.1 L1028.4 693.1Z" fill="#c89b93"/>
<path d="M1037.0 691.7 L1073.2 732.0 L1070.8 733.6 L1035.2 692.7Z" fill="#fff3ef"/>
<path d="M1025.4 694.5 L1061.2 741.5 L1047.0 748.4 L1015.1 698.7Z" fill="#694642"/>
<path d="M1025.4 694.5 L1061.2 741.5 L1051.4 746.5 L1018.2 697.6Z" fill="#c99c94"/>
<path d="M1027.1 697.0 L1060.0 740.1 L1057.5 741.5 L1025.2 697.8Z" fill="#fff5f1"/>
<path d="M1015.1 698.7 L1047.0 748.4 L1032.1 754.1 L1004.3 702.0Z" fill="#6d4a45"/>
<path d="M1015.1 698.7 L1047.0 748.4 L1036.7 752.5 L1007.6 701.1Z" fill="#ca9d95"/>
<path d="M1016.5 701.3 L1046.0 747.0 L1043.3 748.1 L1014.6 702.0Z" fill="#fff6f3"/>
<path d="M1004.3 702.0 L1032.1 754.1 L1016.6 758.4 L993.1 704.3Z" fill="#714e49"/>
<path d="M996.5 703.7 L1012.7 740.3 L1008.4 741.2 L993.1 704.3Z" fill="#795955"/>
<path d="M1004.3 702.0 L1032.1 754.1 L1021.3 757.2 L996.5 703.7Z" fill="#cb9e96"/>
<path d="M1005.5 704.7 L1031.2 752.6 L1028.4 753.4 L1003.5 705.2Z" fill="#fff8f5"/>
<path d="M993.1 704.3 L1016.6 758.4 L1000.5 761.3 L981.5 705.7Z" fill="#76534d"/>
<path d="M985.0 705.4 L998.1 743.0 L993.7 743.6 L981.5 705.7Z" fill="#826662"/>
<path d="M993.1 704.3 L1016.6 758.4 L1005.3 760.6 L985.0 705.4Z" fill="#cc9f97"/>
<path d="M994.1 707.1 L1015.8 756.8 L1012.9 757.4 L992.0 707.4Z" fill="#fff9f7"/>
<path d="M981.5 705.7 L1000.5 761.3 L984.0 762.8 L969.8 706.0Z" fill="#7a5751"/>
<path d="M973.3 706.0 L983.2 744.5 L978.7 744.6 L969.8 706.0Z" fill="#8b716e"/>
<path d="M981.5 705.7 L1000.5 761.3 L989.0 762.5 L973.3 706.0Z" fill="#cda098"/>
<path d="M982.3 708.5 L999.8 759.6 L996.9 760.0 L980.2 708.6Z" fill="#fffbf9"/>
<path d="M969.8 706.0 L984.0 762.8 L967.2 762.9 L957.9 705.4Z" fill="#7f5b56"/>
<path d="M961.5 705.7 L968.1 744.6 L963.5 744.4 L957.9 705.4Z" fill="#937c7a"/>
<path d="M969.8 706.0 L984.0 762.8 L972.3 763.0 L961.5 705.7Z" fill="#cea199"/>
<path d="M970.3 708.9 L983.5 761.1 L980.5 761.2 L968.2 708.8Z" fill="#fffdfc"/>
<path d="M957.9 705.4 L967.2 762.9 L950.4 761.5 L946.1 703.7Z" fill="#84605a"/>
<path d="M949.6 704.3 L952.8 743.5 L948.2 742.9 L946.1 703.7Z" fill="#9b8886"/>
<path d="M957.9 705.4 L967.2 762.9 L955.4 762.1 L949.6 704.3Z" fill="#cfa29a"/>
<path d="M958.2 708.2 L966.9 761.1 L963.8 761.0 L956.0 708.0Z" fill="#fffefe"/>
<path d="M946.1 703.7 L950.4 761.5 L933.5 758.7 L934.2 701.1Z" fill="#805d57"/>
<path d="M937.9 702.1 L937.7 741.2 L933.0 740.2 L934.2 701.1Z" fill="#9e8e8d"/>
<path d="M946.1 703.7 L950.4 761.5 L938.8 759.8 L937.9 702.1Z" fill="#cfa39b"/>
<path d="M946.1 706.6 L950.1 759.8 L947.1 759.4 L943.9 706.2Z" fill="#fffdfd"/>
<path d="M934.2 701.1 L933.5 758.7 L916.7 754.6 L922.6 697.6Z" fill="#74544f"/>
<path d="M926.5 698.9 L922.9 737.6 L917.8 736.1 L922.6 697.6Z" fill="#9e9393"/>
<path d="M934.2 701.1 L933.5 758.7 L922.4 756.1 L926.5 698.9Z" fill="#d0a39b"/>
<path d="M934.0 704.0 L933.4 757.0 L930.5 756.4 L932.0 703.4Z" fill="#fefaf9"/>
<path d="M922.6 697.6 L916.7 754.6 L900.3 749.1 L911.2 693.1Z" fill="#694a46"/>
<path d="M915.3 694.9 L908.4 732.9 L903.0 730.9 L911.2 693.1Z" fill="#9f9798"/>
<path d="M922.6 697.6 L916.7 754.6 L906.2 751.2 L915.3 694.9Z" fill="#d1a49b"/>
<path d="M922.1 700.4 L916.8 752.8 L914.1 752.0 L920.2 699.7Z" fill="#fef7f5"/>
<path d="M911.2 693.1 L900.3 749.1 L884.2 742.2 L900.1 687.8Z" fill="#5d403d"/>
<path d="M904.4 690.0 L894.1 727.1 L888.6 724.5 L900.1 687.8Z" fill="#a19c9e"/>
<path d="M911.2 693.1 L900.3 749.1 L890.4 745.0 L904.4 690.0Z" fill="#d2a49b"/>
<path d="M910.5 695.9 L900.5 747.3 L898.0 746.4 L908.6 695.1Z" fill="#fdf4f1"/>
<path d="M900.1 687.8 L884.2 742.2 L868.7 734.1 L889.5 681.6Z" fill="#513733"/>
<path d="M893.9 684.2 L880.4 720.2 L874.6 716.9 L889.5 681.6Z" fill="#a5a2a5"/>
<path d="M900.1 687.8 L884.2 742.2 L875.1 737.7 L893.9 684.2Z" fill="#d3a49c"/>
<path d="M899.2 690.4 L884.6 740.6 L882.2 739.4 L897.5 689.5Z" fill="#fdf1ed"/>
<path d="M889.5 681.6 L868.7 734.1 L853.9 724.9 L879.4 674.6Z" fill="#452d2a"/>
<path d="M883.8 677.7 L867.1 712.3 L861.3 708.3 L879.4 674.6Z" fill="#aaaaad"/>
<path d="M889.5 681.6 L868.7 734.1 L860.3 729.1 L883.8 677.7Z" fill="#d4a49c"/>
<path d="M888.3 684.1 L869.2 732.5 L867.1 731.3 L886.8 683.1Z" fill="#fcede9"/>
<path d="M879.4 674.6 L853.9 724.9 L839.8 714.5 L869.9 666.8Z" fill="#382321"/>
<path d="M874.3 670.5 L854.6 703.4 L848.8 698.7 L869.9 666.8Z" fill="#b1b3b7"/>
<path d="M879.4 674.6 L853.9 724.9 L846.3 719.5 L874.3 670.5Z" fill="#d5a59c"/>
<path d="M878.0 677.0 L854.5 723.3 L852.6 721.9 L876.6 675.9Z" fill="#fceae5"/>
<path d="M869.9 666.8 L839.8 714.5 L826.6 703.0 L861.1 658.4Z" fill="#2c1918"/>
<path d="M865.4 662.7 L842.7 693.5 L837.0 688.2 L861.1 658.4Z" fill="#babec2"/>
<path d="M869.9 666.8 L839.8 714.5 L833.0 708.8 L865.4 662.7Z" fill="#d6a59c"/>
<path d="M868.3 669.1 L840.6 713.0 L838.8 711.5 L867.1 668.0Z" fill="#fbe7e1"/>
<path d="M861.1 658.4 L826.6 703.0 L814.5 690.7 L853.1 649.4Z" fill="#291716"/>
<path d="M857.0 654.0 L831.5 682.6 L826.2 676.9 L853.1 649.4Z" fill="#bcc0c4"/>
<path d="M861.1 658.4 L826.6 703.0 L820.4 696.9 L857.0 654.0Z" fill="#d6a59c"/>
<path d="M859.3 660.5 L827.6 701.6 L825.9 700.1 L858.2 659.4Z" fill="#fbe7e1"/>
<path d="M853.1 649.4 L814.5 690.7 L803.4 677.4 L845.8 639.8Z" fill="#281615"/>
<path d="M849.3 644.6 L821.1 670.9 L816.4 664.8 L845.8 639.8Z" fill="#bcc0c4"/>
<path d="M853.1 649.4 L814.5 690.7 L808.7 684.1 L849.3 644.6Z" fill="#d6a59c"/>
<path d="M851.0 651.3 L815.5 689.3 L814.0 687.7 L850.0 650.1Z" fill="#fce8e2"/>
<path d="M845.8 639.8 L803.4 677.4 L793.5 663.5 L839.5 629.8Z" fill="#271615"/>
<path d="M842.5 634.8 L811.9 658.4 L807.7 652.1 L839.5 629.8Z" fill="#bcc0c4"/>
<path d="M845.8 639.8 L803.4 677.4 L798.2 670.4 L842.5 634.8Z" fill="#d6a59c"/>
<path d="M843.6 641.6 L804.6 676.2 L803.2 674.4 L842.7 640.3Z" fill="#fceae4"/>
<path d="M839.5 629.8 L793.5 663.5 L784.9 648.9 L834.1 619.5Z" fill="#261615"/>
<path d="M836.6 624.6 L803.7 645.4 L800.2 638.8 L834.1 619.5Z" fill="#bcc0c4"/>
<path d="M839.5 629.8 L793.5 663.5 L788.9 656.1 L836.6 624.6Z" fill="#d6a59c"/>
<path d="M837.1 631.4 L794.8 662.4 L793.6 660.5 L836.3 630.0Z" fill="#fdebe5"/>
<path d="M834.1 619.5 L784.9 648.9 L777.6 633.8 L829.6 608.8Z" fill="#251514"/>
<path d="M831.6 614.0 L796.8 631.9 L793.9 625.1 L829.6 608.8Z" fill="#bcc0c4"/>
<path d="M834.1 619.5 L784.9 648.9 L781.0 641.2 L831.6 614.0Z" fill="#d6a49b"/>
<path d="M831.5 620.8 L786.3 647.9 L785.3 646.0 L830.8 619.3Z" fill="#fdece6"/>
<path d="M829.6 608.8 L777.6 633.8 L771.7 618.3 L826.1 597.9Z" fill="#241514"/>
<path d="M827.7 603.2 L791.1 618.0 L788.8 611.1 L826.1 597.9Z" fill="#bcc0c4"/>
<path d="M829.6 608.8 L777.6 633.8 L774.4 625.9 L827.7 603.2Z" fill="#d6a49b"/>
<path d="M826.9 609.9 L779.1 633.0 L778.3 630.9 L826.4 608.4Z" fill="#feede7"/>
<path d="M826.1 597.9 L771.7 618.3 L767.3 602.6 L823.7 586.9Z" fill="#231514"/>
<path d="M824.7 592.2 L786.7 603.8 L785.1 596.9 L823.7 586.9Z" fill="#bcc0c4"/>
<path d="M826.1 597.9 L771.7 618.3 L769.2 610.2 L824.7 592.2Z" fill="#d6a49b"/>
<path d="M823.3 598.8 L773.3 617.6 L772.6 615.6 L822.9 597.3Z" fill="#feeee8"/>
<path d="M823.7 586.9 L767.3 602.6 L764.3 586.7 L822.3 575.8Z" fill="#221413"/>
<path d="M822.9 581.2 L783.7 589.5 L782.7 582.6 L822.3 575.8Z" fill="#bcc0c4"/>
<path d="M823.7 586.9 L767.3 602.6 L765.6 594.4 L822.9 581.2Z" fill="#d6a49b"/>
<path d="M820.8 587.5 L768.9 602.0 L768.5 599.9 L820.6 586.0Z" fill="#ffefe9"/>
<path d="M822.3 575.8 L764.3 586.7 L762.9 570.9 L822.0 564.9Z" fill="#251715"/>
<path d="M822.0 570.0 L782.0 575.0 L781.7 568.2 L822.0 564.9Z" fill="#b5b9bc"/>
<path d="M822.3 575.8 L764.3 586.7 L763.4 578.4 L822.0 570.0Z" fill="#d5a39a"/>
<path d="M819.4 576.2 L766.0 586.3 L765.8 584.2 L819.3 574.7Z" fill="#feeee8"/>
<path d="M822.0 564.9 L762.9 570.9 L762.9 555.1 L822.8 554.0Z" fill="#2d1c1b"/>
<path d="M822.3 558.9 L781.7 560.5 L782.0 554.1 L822.8 554.0Z" fill="#a8a9ac"/>
<path d="M822.0 564.9 L762.9 570.9 L762.7 562.3 L822.3 558.9Z" fill="#d3a299"/>
<path d="M819.0 565.0 L764.6 570.6 L764.5 568.4 L819.1 563.4Z" fill="#fdeae3"/>
<path d="M822.8 554.0 L762.9 555.1 L764.5 539.6 L824.6 543.4Z" fill="#342220"/>
<path d="M823.7 548.0 L782.8 546.2 L783.7 540.2 L824.6 543.4Z" fill="#9c9b9e"/>
<path d="M822.8 554.0 L762.9 555.1 L763.6 546.4 L823.7 548.0Z" fill="#d2a198"/>
<path d="M819.8 553.9 L764.7 555.0 L764.8 552.7 L820.0 552.3Z" fill="#fbe5de"/>
<path d="M824.6 543.4 L764.5 539.6 L767.6 524.5 L827.5 533.1Z" fill="#3c2725"/>
<path d="M826.1 537.4 L785.4 532.3 L786.8 526.6 L827.5 533.1Z" fill="#928e90"/>
<path d="M824.6 543.4 L764.5 539.6 L766.1 530.8 L826.1 537.4Z" fill="#d0a097"/>
<path d="M821.6 543.1 L766.3 539.6 L766.7 537.4 L822.0 541.5Z" fill="#f9e1d9"/>
<path d="M827.5 533.1 L767.6 524.5 L772.1 509.8 L831.3 523.3Z" fill="#432d2b"/>
<path d="M829.6 527.2 L789.3 518.8 L791.2 513.5 L831.3 523.3Z" fill="#888183"/>
<path d="M827.5 533.1 L767.6 524.5 L770.1 515.7 L829.6 527.2Z" fill="#ce9f96"/>
<path d="M824.5 532.6 L769.4 524.7 L770.0 522.4 L825.0 531.0Z" fill="#f8ddd5"/>
<path d="M831.3 523.3 L772.1 509.8 L778.1 495.8 L836.2 513.9Z" fill="#4a3230"/>
<path d="M834.2 517.5 L794.5 505.8 L796.9 501.0 L836.2 513.9Z" fill="#7a6e6f"/>
<path d="M831.3 523.3 L772.1 509.8 L775.6 501.2 L834.2 517.5Z" fill="#cc9e95"/>
<path d="M828.4 522.5 L773.9 510.2 L774.8 507.9 L829.1 520.9Z" fill="#f6d8d0"/>
<path d="M836.2 513.9 L778.1 495.8 L785.5 482.5 L842.1 505.0Z" fill="#513835"/>
<path d="M839.8 508.3 L801.1 493.5 L803.9 489.2 L842.1 505.0Z" fill="#6e5d5c"/>
<path d="M836.2 513.9 L778.1 495.8 L782.6 487.4 L839.8 508.3Z" fill="#cb9d94"/>
<path d="M833.4 512.8 L779.9 496.3 L781.0 494.1 L834.3 511.3Z" fill="#f4d4cc"/>
<path d="M842.1 505.0 L785.5 482.5 L794.2 470.1 L848.8 496.8Z" fill="#583d3a"/>
<path d="M846.3 499.7 L809.0 482.0 L812.0 478.1 L848.8 496.8Z" fill="#654d4b"/>
<path d="M842.1 505.0 L785.5 482.5 L790.9 474.4 L846.3 499.7Z" fill="#c99c93"/>
<path d="M839.3 503.8 L787.2 483.1 L788.6 481.0 L840.4 502.3Z" fill="#f3d0c7"/>
<path d="M848.8 496.8 L794.2 470.1 L804.2 458.5 L856.4 489.3Z" fill="#5f423f"/>
<path d="M848.8 496.8 L794.2 470.1 L800.6 462.4 L853.7 491.8Z" fill="#c79b92"/>
<path d="M846.1 495.4 L795.9 470.8 L797.5 468.8 L847.4 494.0Z" fill="#f1ccc2"/>
<path d="M856.4 489.3 L804.2 458.5 L815.3 448.0 L864.8 482.5Z" fill="#664844"/>
<path d="M856.4 489.3 L804.2 458.5 L811.6 451.3 L861.9 484.6Z" fill="#c69990"/>
<path d="M853.9 487.6 L805.8 459.4 L807.7 457.5 L855.3 486.4Z" fill="#f0c8be"/>
<path d="M864.8 482.5 L815.3 448.0 L827.6 438.6 L873.9 476.6Z" fill="#694a46"/>
<path d="M864.8 482.5 L815.3 448.0 L823.5 441.6 L870.8 478.4Z" fill="#c59990"/>
<path d="M862.4 480.7 L816.9 449.0 L818.9 447.3 L864.0 479.6Z" fill="#efc7bd"/>
<path d="M873.9 476.6 L827.6 438.6 L840.8 430.4 L883.6 471.5Z" fill="#6a4b47"/>
<path d="M873.9 476.6 L827.6 438.6 L836.3 433.0 L880.3 473.1Z" fill="#c69a91"/>
<path d="M871.7 474.6 L829.1 439.7 L831.3 438.2 L873.3 473.6Z" fill="#f0c8be"/>
<path d="M883.6 471.5 L840.8 430.4 L855.0 423.5 L893.9 467.3Z" fill="#6b4c48"/>
<path d="M883.6 471.5 L840.8 430.4 L850.1 425.7 L890.3 468.6Z" fill="#c79b92"/>
<path d="M881.6 469.3 L842.2 431.6 L844.5 430.3 L883.4 468.5Z" fill="#f1c9bf"/>
<path d="M893.9 467.3 L855.0 423.5 L869.9 417.8 L904.7 464.0Z" fill="#6b4d49"/>
<path d="M893.9 467.3 L855.0 423.5 L864.6 419.6 L900.9 465.0Z" fill="#c79b93"/>
<path d="M892.1 465.0 L856.2 424.7 L858.7 423.7 L893.9 464.4Z" fill="#f1cac1"/>
<path d="M904.7 464.0 L869.9 417.8 L885.4 413.5 L915.9 461.7Z" fill="#6c4e4a"/>
<path d="M904.7 464.0 L869.9 417.8 L879.8 414.9 L911.9 462.4Z" fill="#c89c93"/>
<path d="M903.1 461.6 L871.0 419.2 L873.5 418.4 L905.0 461.2Z" fill="#f2ccc2"/>
<path d="M915.9 461.7 L885.4 413.5 L901.5 410.6 L927.5 460.3Z" fill="#6d4f4b"/>
<path d="M915.9 461.7 L885.4 413.5 L895.6 411.5 L923.2 460.7Z" fill="#c99d94"/>
<path d="M914.6 459.2 L886.4 414.9 L889.0 414.4 L916.5 458.9Z" fill="#f3cdc4"/>
<path d="M927.5 460.3 L901.5 410.6 L918.0 409.1 L939.2 460.0Z" fill="#6d504c"/>
<path d="M927.5 460.3 L901.5 410.6 L911.8 409.5 L934.8 460.0Z" fill="#c99d95"/>
<path d="M926.3 457.8 L902.4 412.1 L905.0 411.8 L928.3 457.7Z" fill="#f3cec5"/>
<path d="M939.2 460.0 L918.0 409.1 L934.8 409.0 L951.1 460.6Z" fill="#6e514d"/>
<path d="M939.2 460.0 L918.0 409.1 L928.3 408.9 L946.5 460.3Z" fill="#ca9e96"/>
<path d="M938.3 457.4 L918.7 410.6 L921.4 410.5 L940.2 457.5Z" fill="#f4d0c7"/>
<path d="M951.1 460.6 L934.8 409.0 L951.6 410.4 L962.9 462.3Z" fill="#6f524e"/>
<path d="M951.1 460.6 L934.8 409.0 L945.0 409.7 L958.2 461.5Z" fill="#cb9f97"/>
<path d="M950.4 458.1 L935.4 410.6 L938.0 410.7 L952.3 458.2Z" fill="#f5d1c8"/>
<path d="M962.9 462.3 L951.6 410.4 L968.5 413.2 L974.8 464.9Z" fill="#6e514d"/>
<path d="M962.9 462.3 L951.6 410.4 L961.7 411.9 L970.0 463.7Z" fill="#cb9f97"/>
<path d="M962.5 459.7 L952.1 412.0 L954.7 412.3 L964.4 460.0Z" fill="#f4d1c8"/>
<path d="M974.8 464.9 L968.5 413.2 L985.3 417.3 L986.4 468.4Z" fill="#6d504c"/>
<path d="M974.8 464.9 L968.5 413.2 L978.4 415.4 L981.7 466.8Z" fill="#cc9f97"/>
<path d="M974.6 462.3 L968.8 414.7 L971.4 415.3 L976.5 462.8Z" fill="#f3cfc5"/>
<path d="M986.4 468.4 L985.3 417.3 L1001.7 422.8 L997.8 472.9Z" fill="#6c4f4b"/>
<path d="M986.4 468.4 L985.3 417.3 L994.9 420.4 L993.1 470.9Z" fill="#cda097"/>
<path d="M986.5 465.9 L985.4 418.9 L987.9 419.6 L988.3 466.5Z" fill="#f2ccc3"/>
<path d="M997.8 472.9 L1001.7 422.8 L1017.8 429.7 L1008.9 478.2Z" fill="#6b4e4a"/>
<path d="M997.8 472.9 L1001.7 422.8 L1011.0 426.6 L1004.2 475.8Z" fill="#cda097"/>
<path d="M998.2 470.4 L1001.7 424.4 L1004.1 425.3 L999.9 471.2Z" fill="#f1cac0"/>
<path d="M1008.9 478.2 L1017.8 429.7 L1033.3 437.8 L1019.5 484.4Z" fill="#694c48"/>
<path d="M1008.9 478.2 L1017.8 429.7 L1026.6 434.1 L1014.9 481.6Z" fill="#cea098"/>
<path d="M1009.5 475.9 L1017.6 431.2 L1019.9 432.3 L1011.1 476.8Z" fill="#f0c8be"/>
<path d="M1019.5 484.4 L1033.3 437.8 L1048.1 447.0 L1029.6 491.4Z" fill="#684b47"/>
<path d="M1019.5 484.4 L1033.3 437.8 L1041.6 442.8 L1025.2 488.2Z" fill="#cfa098"/>
<path d="M1020.3 482.2 L1033.0 439.2 L1035.1 440.5 L1021.9 483.2Z" fill="#efc5bb"/>
<path d="M1029.6 491.4 L1048.1 447.0 L1062.2 457.4 L1039.1 499.2Z" fill="#674a46"/>
<path d="M1029.6 491.4 L1048.1 447.0 L1056.0 452.6 L1034.9 495.6Z" fill="#cfa198"/>
<path d="M1030.7 489.3 L1047.7 448.4 L1049.7 449.8 L1032.1 490.4Z" fill="#edc3b9"/>
<path d="M1039.1 499.2 L1062.2 457.4 L1075.4 468.9 L1047.9 507.6Z" fill="#654844"/>
<path d="M1039.1 499.2 L1062.2 457.4 L1069.5 463.5 L1043.9 503.6Z" fill="#d0a198"/>
<path d="M1040.4 497.2 L1061.6 458.7 L1063.5 460.3 L1041.7 498.4Z" fill="#ecc0b7"/>
<path d="M1047.9 507.6 L1075.4 468.9 L1087.5 481.2 L1055.9 516.6Z" fill="#664844"/>
<path d="M1047.9 507.6 L1075.4 468.9 L1082.0 475.4 L1052.3 512.3Z" fill="#d1a198"/>
<path d="M1049.4 505.8 L1074.6 470.1 L1076.4 471.7 L1050.6 507.0Z" fill="#edc1b7"/>
<path d="M1055.9 516.6 L1087.5 481.2 L1098.6 494.5 L1063.2 526.2Z" fill="#664945"/>
<path d="M1055.9 516.6 L1087.5 481.2 L1093.5 488.1 L1059.8 521.6Z" fill="#d2a299"/>
<path d="M1057.6 515.0 L1086.7 482.4 L1088.2 484.1 L1058.7 516.3Z" fill="#eec3b9"/>
<path d="M1063.2 526.2 L1098.6 494.5 L1108.5 508.4 L1069.5 536.2Z" fill="#674945"/>
<path d="M1063.2 526.2 L1098.6 494.5 L1103.9 501.6 L1066.6 531.3Z" fill="#d3a299"/>
<path d="M1065.0 524.7 L1097.6 495.5 L1099.0 497.3 L1066.0 526.1Z" fill="#eec4ba"/>
<path d="M1069.5 536.2 L1108.5 508.4 L1117.1 523.0 L1074.9 546.5Z" fill="#684945"/>
<path d="M1069.5 536.2 L1108.5 508.4 L1113.1 515.9 L1072.5 541.5Z" fill="#d4a39a"/>
<path d="M1071.6 534.9 L1107.4 509.3 L1108.6 511.3 L1072.4 536.3Z" fill="#efc5bb"/>
<path d="M1074.9 546.5 L1117.1 523.0 L1124.4 538.1 L1079.4 557.2Z" fill="#694a46"/>
<path d="M1074.9 546.5 L1117.1 523.0 L1121.1 530.8 L1077.4 552.1Z" fill="#d5a39a"/>
<path d="M1077.2 545.5 L1115.9 523.8 L1117.0 525.8 L1077.8 547.0Z" fill="#f0c7bd"/>
<path d="M1079.4 557.2 L1124.4 538.1 L1130.3 553.6 L1082.9 568.1Z" fill="#694a46"/>
<path d="M1079.4 557.2 L1124.4 538.1 L1127.6 546.1 L1081.3 562.9Z" fill="#d6a49b"/>
<path d="M1081.7 556.4 L1123.1 538.7 L1124.0 540.8 L1082.3 557.9Z" fill="#f1c8be"/>
<path d="M1082.9 568.1 L1130.3 553.6 L1134.7 569.3 L1085.3 579.1Z" fill="#6a4a46"/>
<path d="M1082.9 568.1 L1130.3 553.6 L1132.8 561.7 L1084.3 573.8Z" fill="#d7a49b"/>
<path d="M1085.3 567.5 L1128.9 554.1 L1129.6 556.2 L1085.7 569.0Z" fill="#f2c9bf"/>
<path d="M1085.3 579.1 L1134.7 569.3 L1137.7 585.2 L1086.7 590.2Z" fill="#6b4b47"/>
<path d="M1085.3 579.1 L1134.7 569.3 L1136.4 577.5 L1086.1 584.9Z" fill="#d8a59c"/>
<path d="M1087.8 578.8 L1133.3 569.7 L1133.8 571.8 L1088.1 580.3Z" fill="#f3cac0"/>
<path d="M1086.7 590.2 L1137.7 585.2 L1139.1 601.0 L1087.0 601.1Z" fill="#6a4a46"/>
<path d="M1086.7 590.2 L1137.7 585.2 L1138.6 593.6 L1087.0 596.0Z" fill="#d7a49c"/>
<path d="M1089.3 590.1 L1136.2 585.4 L1136.5 587.6 L1089.4 591.6Z" fill="#f4cdc3"/>
<path d="M1087.0 601.1 L1139.1 601.0 L1139.1 616.8 L1086.2 612.0Z" fill="#694945"/>
<path d="M1087.0 601.1 L1139.1 601.0 L1139.3 609.7 L1086.7 607.1Z" fill="#d5a39a"/>
<path d="M1089.6 601.3 L1137.6 601.1 L1137.7 603.4 L1089.6 602.9Z" fill="#f5d1c8"/>
<path d="M1086.2 612.0 L1139.1 616.8 L1137.5 632.3 L1084.4 622.6Z" fill="#684743"/>
<path d="M1086.2 612.0 L1139.1 616.8 L1138.4 625.6 L1085.3 618.0Z" fill="#d4a299"/>
<path d="M1088.9 612.4 L1137.5 616.7 L1137.4 619.0 L1088.7 614.0Z" fill="#f6d5cc"/>
<path d="M1084.4 622.6 L1137.5 632.3 L1134.4 647.4 L1081.5 632.9Z" fill="#664642"/>
<path d="M1084.4 622.6 L1137.5 632.3 L1135.9 641.2 L1082.9 628.6Z" fill="#d2a198"/>
<path d="M1087.1 623.2 L1135.9 632.1 L1135.5 634.4 L1086.7 624.8Z" fill="#f7d9d1"/>
<path d="M1081.5 632.9 L1134.4 647.4 L1129.9 662.1 L1077.7 642.7Z" fill="#654440"/>
<path d="M1081.5 632.9 L1134.4 647.4 L1131.9 656.3 L1079.3 638.9Z" fill="#d0a097"/>
<path d="M1084.2 633.7 L1132.8 647.1 L1132.2 649.4 L1083.6 635.3Z" fill="#f9ddd5"/>
<path d="M1077.7 642.7 L1129.9 662.1 L1123.9 676.1 L1072.8 652.1Z" fill="#64433f"/>
<path d="M1077.7 642.7 L1129.9 662.1 L1126.3 670.8 L1074.7 648.6Z" fill="#ce9f96"/>
<path d="M1080.2 643.8 L1128.3 661.6 L1127.4 663.8 L1079.5 645.4Z" fill="#fae0d9"/>
<path d="M1072.8 652.1 L1123.9 676.1 L1116.5 689.4 L1066.9 661.0Z" fill="#62413d"/>
<path d="M1072.8 652.1 L1123.9 676.1 L1119.3 684.7 L1069.2 657.9Z" fill="#cd9e95"/>
<path d="M1075.3 653.5 L1122.3 675.4 L1121.2 677.7 L1074.4 655.0Z" fill="#fbe4dd"/>
<path d="M1116.51 689.37 A195.17 169.45 32.00 1 1 785.49 482.53 A195.17 169.45 32.00 1 1 1116.51 689.37 Z" fill="none" stroke="#dd9a8e" stroke-width="3.5"/>
<path d="M1075.71 653.13 A140.04 120.73 30.00 1 1 833.15 513.08 A140.04 120.73 30.00 1 1 1075.71 653.13 Z" fill="#a4554b" />
<path d="M1073.15 651.50 A137.00 118.00 30.00 1 1 835.85 514.50 A137.00 118.00 30.00 1 1 1073.15 651.50 Z" fill="url(#midg)" />
<path d="M1069.48 649.17 A132.65 114.10 30.00 1 1 839.72 516.53 A132.65 114.10 30.00 1 1 1069.48 649.17 Z" fill="none" stroke="#f0b8ac" stroke-width="3.5"/>
<path d="M1063.61 645.46 A125.69 107.86 30.00 1 1 845.91 519.76 A125.69 107.86 30.00 1 1 1063.61 645.46 Z" fill="#a4554b" />
<path d="M1063.61 645.46 A125.69 107.86 30.00 1 1 845.91 519.76 A125.69 107.86 30.00 1 1 1063.61 645.46 Z" fill="#6a4644" />
<path d="M1012.4 630.7 L1062.6 652.0 L1049.5 667.7 L1003.3 638.9Z" fill="#5d3c38"/>
<path d="M1012.4 630.7 L1062.6 652.0 L1053.4 663.7 L1006.0 636.8Z" fill="#ca9c94"/>
<path d="M1014.8 632.0 L1061.0 651.5 L1058.8 654.7 L1013.2 633.7Z" fill="#fdeae5"/>
<path d="M1003.3 638.9 L1049.5 667.7 L1033.2 680.5 L992.5 645.2Z" fill="#5f3d39"/>
<path d="M1003.3 638.9 L1049.5 667.7 L1037.9 677.4 L995.6 643.7Z" fill="#c79a92"/>
<path d="M1005.5 640.5 L1048.0 667.0 L1045.2 669.6 L1003.5 641.9Z" fill="#fff1ed"/>
<path d="M992.5 645.2 L1033.2 680.5 L1014.2 689.9 L980.4 649.4Z" fill="#62403c"/>
<path d="M992.5 645.2 L1033.2 680.5 L1019.5 687.8 L983.7 648.5Z" fill="#c99c94"/>
<path d="M994.3 647.1 L1031.9 679.5 L1028.5 681.6 L992.1 648.1Z" fill="#fff4f1"/>
<path d="M980.4 649.4 L1014.2 689.9 L993.2 695.7 L967.3 651.3Z" fill="#65433f"/>
<path d="M980.4 649.4 L1014.2 689.9 L999.0 694.6 L970.8 651.0Z" fill="#cb9e96"/>
<path d="M981.8 651.5 L1013.1 688.8 L1009.2 690.2 L979.3 652.1Z" fill="#fff8f5"/>
<path d="M967.3 651.3 L993.2 695.7 L970.9 697.7 L953.7 650.9Z" fill="#694743"/>
<path d="M957.3 651.2 L969.3 682.9 L964.1 682.8 L953.7 650.9Z" fill="#775c59"/>
<path d="M967.3 651.3 L993.2 695.7 L976.9 697.6 L957.3 651.2Z" fill="#cda098"/>
<path d="M968.3 653.6 L992.3 694.5 L988.1 695.1 L965.7 653.7Z" fill="#fffbf9"/>
<path d="M953.7 650.9 L970.9 697.7 L948.0 695.7 L940.2 648.2Z" fill="#6c4b46"/>
<path d="M943.7 649.1 L949.4 681.3 L944.2 680.4 L940.2 648.2Z" fill="#928281"/>
<path d="M953.7 650.9 L970.9 697.7 L954.0 696.6 L943.7 649.1Z" fill="#cfa39b"/>
<path d="M954.3 653.2 L970.2 696.3 L965.9 696.2 L951.6 652.9Z" fill="#fffefe"/>
<path d="M940.2 648.2 L948.0 695.7 L925.4 689.9 L927.0 643.2Z" fill="#62433f"/>
<path d="M930.5 644.8 L929.8 676.5 L924.6 674.6 L927.0 643.2Z" fill="#a8a5a7"/>
<path d="M940.2 648.2 L948.0 695.7 L931.4 691.8 L930.5 644.8Z" fill="#d0a39b"/>
<path d="M940.3 650.5 L947.6 694.3 L943.3 693.5 L937.6 649.7Z" fill="#fefaf9"/>
<path d="M927.0 643.2 L925.4 689.9 L903.7 680.4 L914.7 636.3Z" fill="#553834"/>
<path d="M918.0 638.4 L911.0 668.5 L906.0 665.7 L914.7 636.3Z" fill="#acabae"/>
<path d="M927.0 643.2 L925.4 689.9 L909.6 683.4 L918.0 638.4Z" fill="#d2a49b"/>
<path d="M926.6 645.5 L925.3 688.5 L921.2 687.0 L924.2 644.3Z" fill="#fdf3f0"/>
<path d="M914.7 636.3 L903.7 680.4 L883.8 667.6 L903.8 627.5Z" fill="#472d2a"/>
<path d="M906.8 630.2 L893.8 657.7 L889.1 654.0 L903.8 627.5Z" fill="#b0b1b4"/>
<path d="M914.7 636.3 L903.7 680.4 L889.4 671.7 L906.8 630.2Z" fill="#d4a49c"/>
<path d="M913.9 638.3 L903.9 679.0 L900.1 676.9 L911.7 636.8Z" fill="#fcece8"/>
<path d="M903.8 627.5 L883.8 667.6 L866.3 652.0 L894.5 617.2Z" fill="#3a2220"/>
<path d="M897.1 620.4 L878.5 644.4 L874.3 639.9 L894.5 617.2Z" fill="#b5b7bb"/>
<path d="M903.8 627.5 L883.8 667.6 L871.3 657.0 L897.1 620.4Z" fill="#d6a59c"/>
<path d="M902.5 629.3 L884.3 666.3 L880.9 663.7 L900.6 627.5Z" fill="#fbe6e0"/>
<path d="M894.5 617.2 L866.3 652.0 L851.9 633.9 L887.2 605.7Z" fill="#351f1d"/>
<path d="M889.2 609.4 L865.8 629.0 L862.3 623.8 L887.2 605.7Z" fill="#bbbfc3"/>
<path d="M894.5 617.2 L866.3 652.0 L856.0 639.7 L889.2 609.4Z" fill="#d6a59c"/>
<path d="M892.9 618.7 L867.0 650.8 L864.3 647.7 L891.3 616.6Z" fill="#fce9e3"/>
<path d="M887.2 605.7 L851.9 633.9 L840.9 614.1 L882.1 593.4Z" fill="#311d1b"/>
<path d="M883.5 597.4 L855.9 612.1 L853.5 606.3 L882.1 593.4Z" fill="#b9bcc0"/>
<path d="M887.2 605.7 L851.9 633.9 L844.0 620.6 L883.5 597.4Z" fill="#d6a49b"/>
<path d="M885.2 606.9 L852.8 632.9 L850.6 629.6 L884.1 604.7Z" fill="#fdebe5"/>
<path d="M882.1 593.4 L840.9 614.1 L833.8 593.3 L879.5 580.8Z" fill="#2e1a19"/>
<path d="M880.1 585.0 L849.4 594.2 L848.0 588.1 L879.5 580.8Z" fill="#b5b8bc"/>
<path d="M882.1 593.4 L840.9 614.1 L835.7 600.2 L880.1 585.0Z" fill="#d6a49b"/>
<path d="M879.9 594.2 L842.0 613.3 L840.5 609.8 L879.3 592.0Z" fill="#feeee8"/>
<path d="M879.5 580.8 L833.8 593.3 L830.8 572.0 L879.3 568.3Z" fill="#2a1817"/>
<path d="M879.1 572.5 L846.4 575.9 L846.2 569.6 L879.3 568.3Z" fill="#b1b3b7"/>
<path d="M879.5 580.8 L833.8 593.3 L831.3 579.2 L879.1 572.5Z" fill="#d6a49b"/>
<path d="M877.1 581.2 L835.1 592.7 L834.3 589.1 L876.9 578.9Z" fill="#fff0ea"/>
<path d="M879.3 568.3 L830.8 572.0 L832.0 551.2 L881.7 556.3Z" fill="#382220"/>
<path d="M880.7 560.2 L847.0 557.5 L848.0 551.6 L881.7 556.3Z" fill="#afb0b4"/>
<path d="M879.3 568.3 L830.8 572.0 L831.1 558.0 L880.7 560.2Z" fill="#d2a299"/>
<path d="M876.9 568.2 L832.2 571.8 L832.1 568.1 L877.1 566.0Z" fill="#fce7e0"/>
<path d="M881.7 556.3 L832.0 551.2 L837.4 531.4 L886.5 545.2Z" fill="#452b29"/>
<path d="M884.7 548.6 L851.3 540.0 L853.5 534.6 L886.5 545.2Z" fill="#90898a"/>
<path d="M881.7 556.3 L832.0 551.2 L835.2 537.6 L884.7 548.6Z" fill="#cf9f96"/>
<path d="M879.3 555.8 L833.5 551.2 L834.2 547.6 L879.9 553.6Z" fill="#f8ded7"/>
<path d="M886.5 545.2 L837.4 531.4 L846.8 513.4 L893.6 535.3Z" fill="#523431"/>
<path d="M891.1 538.3 L859.2 524.0 L862.4 519.3 L893.6 535.3Z" fill="#786665"/>
<path d="M886.5 545.2 L837.4 531.4 L843.4 518.8 L891.1 538.3Z" fill="#cb9d94"/>
<path d="M884.1 544.2 L838.9 531.7 L840.3 528.3 L885.3 542.3Z" fill="#f5d6cd"/>
<path d="M893.6 535.3 L846.8 513.4 L859.9 497.7 L902.7 527.1Z" fill="#5f3d3a"/>
<path d="M899.7 529.5 L870.4 510.0 L874.4 506.2 L902.7 527.1Z" fill="#6d514f"/>
<path d="M893.6 535.3 L846.8 513.4 L855.5 502.2 L899.7 529.5Z" fill="#c89b92"/>
<path d="M891.4 534.0 L848.3 513.9 L850.4 510.9 L892.9 532.3Z" fill="#f2cdc4"/>
<path d="M902.7 527.1 L859.9 497.7 L876.2 484.9 L913.5 520.8Z" fill="#6b4541"/>
<path d="M902.7 527.1 L859.9 497.7 L871.0 488.4 L910.1 522.5Z" fill="#c59990"/>
<path d="M900.7 525.5 L861.3 498.4 L864.0 495.9 L902.6 524.1Z" fill="#efc6bc"/>
<path d="M913.5 520.8 L876.2 484.9 L895.2 475.5 L925.6 516.6Z" fill="#6e4743"/>
<path d="M913.5 520.8 L876.2 484.9 L889.4 477.8 L922.0 517.6Z" fill="#c69a92"/>
<path d="M911.8 518.9 L877.4 485.9 L880.7 483.9 L914.0 517.9Z" fill="#f0c9bf"/>
<path d="M925.6 516.6 L895.2 475.5 L916.2 469.7 L938.7 514.7Z" fill="#724a45"/>
<path d="M925.6 516.6 L895.2 475.5 L910.1 470.9 L934.9 515.0Z" fill="#c89c93"/>
<path d="M924.3 514.5 L896.2 476.6 L900.0 475.3 L926.8 513.9Z" fill="#f2ccc2"/>
<path d="M938.7 514.7 L916.2 469.7 L938.5 467.7 L952.3 515.1Z" fill="#764c47"/>
<path d="M938.7 514.7 L916.2 469.7 L932.3 467.9 L948.5 514.8Z" fill="#c99d95"/>
<path d="M937.8 512.4 L917.0 471.0 L921.1 470.3 L940.5 512.3Z" fill="#f3cec5"/>
<path d="M952.3 515.1 L938.5 467.7 L961.4 469.7 L965.8 517.8Z" fill="#7a4e49"/>
<path d="M952.3 515.1 L938.5 467.7 L955.4 468.8 L962.3 516.9Z" fill="#cb9f97"/>
<path d="M951.9 512.7 L939.1 469.1 L943.4 469.2 L954.6 513.1Z" fill="#f5d1c8"/>
<path d="M965.8 517.8 L961.4 469.7 L984.0 475.5 L979.0 522.8Z" fill="#6e4641"/>
<path d="M965.8 517.8 L961.4 469.7 L978.1 473.6 L975.6 521.3Z" fill="#cc9f97"/>
<path d="M965.9 515.5 L961.7 471.1 L966.0 472.0 L968.6 516.2Z" fill="#f3cec5"/>
<path d="M979.0 522.8 L984.0 475.5 L1005.7 485.0 L991.3 529.7Z" fill="#5c3b37"/>
<path d="M979.0 522.8 L984.0 475.5 L1000.1 482.1 L988.1 527.7Z" fill="#cda097"/>
<path d="M979.5 520.5 L984.0 477.0 L988.2 478.5 L982.1 521.7Z" fill="#f1c9c0"/>
<path d="M991.3 529.7 L1005.7 485.0 L1025.6 497.8 L1002.2 538.5Z" fill="#4a302d"/>
<path d="M991.3 529.7 L1005.7 485.0 L1020.4 494.0 L999.5 536.0Z" fill="#cfa098"/>
<path d="M992.3 527.6 L1005.4 486.4 L1009.3 488.6 L994.5 529.2Z" fill="#eec5bb"/>
<path d="M1002.2 538.5 L1025.6 497.8 L1043.1 513.4 L1011.5 548.8Z" fill="#3b2523"/>
<path d="M1002.2 538.5 L1025.6 497.8 L1038.6 508.9 L1009.2 545.9Z" fill="#d0a198"/>
<path d="M1003.6 536.7 L1025.0 499.1 L1028.5 501.8 L1005.6 538.6Z" fill="#ecc0b6"/>
<path d="M1011.5 548.8 L1043.1 513.4 L1057.5 531.5 L1018.8 560.3Z" fill="#432b29"/>
<path d="M1011.5 548.8 L1043.1 513.4 L1053.9 526.4 L1017.0 557.1Z" fill="#d2a299"/>
<path d="M1013.3 547.3 L1042.3 514.6 L1045.2 517.8 L1014.9 549.4Z" fill="#eec3b9"/>
<path d="M1018.8 560.3 L1057.5 531.5 L1068.5 551.3 L1023.9 572.6Z" fill="#4b312e"/>
<path d="M1018.8 560.3 L1057.5 531.5 L1065.9 545.7 L1022.7 569.1Z" fill="#d4a39a"/>
<path d="M1020.9 559.1 L1056.5 532.5 L1058.8 536.1 L1022.1 561.4Z" fill="#f0c6bc"/>
<path d="M1023.9 572.6 L1068.5 551.3 L1075.6 572.1 L1026.5 585.2Z" fill="#533632"/>
<path d="M1023.9 572.6 L1068.5 551.3 L1074.1 566.3 L1026.0 581.7Z" fill="#d6a49b"/>
<path d="M1026.2 571.8 L1067.3 552.1 L1068.9 555.9 L1027.0 574.2Z" fill="#f1c9bf"/>
<path d="M1026.5 585.2 L1075.6 572.1 L1078.6 593.4 L1026.7 597.7Z" fill="#5a3b37"/>
<path d="M1026.5 585.2 L1075.6 572.1 L1078.2 587.4 L1026.9 594.2Z" fill="#d8a59c"/>
<path d="M1029.0 584.8 L1074.2 572.7 L1075.1 576.6 L1029.3 587.2Z" fill="#f3cbc1"/>
<path d="M1026.7 597.7 L1078.6 593.4 L1077.4 614.2 L1024.3 609.7Z" fill="#5b3b37"/>
<path d="M1026.7 597.7 L1078.6 593.4 L1078.2 608.5 L1025.2 606.5Z" fill="#d4a39a"/>
<path d="M1029.3 597.8 L1077.1 593.7 L1077.2 597.6 L1029.0 600.1Z" fill="#f6d3ca"/>
<path d="M1024.3 609.7 L1077.4 614.2 L1072.0 634.0 L1019.5 620.8Z" fill="#5c3b37"/>
<path d="M1024.3 609.7 L1077.4 614.2 L1073.9 628.7 L1021.0 617.9Z" fill="#d1a098"/>
<path d="M1026.9 610.2 L1075.8 614.2 L1075.1 618.0 L1026.2 612.5Z" fill="#f8dbd3"/>
<path d="M1019.5 620.8 L1072.0 634.0 L1062.6 652.0 L1012.4 630.7Z" fill="#5d3c38"/>
<path d="M1019.5 620.8 L1072.0 634.0 L1065.5 647.3 L1014.6 628.1Z" fill="#cd9e96"/>
<path d="M1022.0 621.7 L1070.4 633.8 L1068.9 637.3 L1020.8 623.8Z" fill="#fbe3dc"/>
<path d="M1019.25 621.25 A76.50 65.50 30.00 1 1 886.75 544.75 A76.50 65.50 30.00 1 1 1019.25 621.25 Z" fill="#c47a6e" />
<path d="M1014.87 619.30 A72.60 61.60 30.00 1 1 889.13 546.70 A72.60 61.60 30.00 1 1 1014.87 619.30 Z" fill="url(#domeg)" />
<clipPath id="dc2"><path d="M1014.87 619.30 A72.60 61.60 30.00 1 1 889.13 546.70 A72.60 61.60 30.00 1 1 1014.87 619.30 Z" fill="#000" /></clipPath>
<g clip-path="url(#dc2)">
<path d="M966.0 560.0 L862.0 553.0 L862.0 493.0 L1042.0 493.0 L1012.0 531.0 Z" fill="url(#domeTop)"/>
<path d="M966.0 560.0 L1012.0 531.0 L1047.0 523.0 L1047.0 673.0 L976.0 663.0 Z" fill="url(#domeRight)"/>
<g filter="url(#soft)">
<path d="M966.0 561.0 L862.0 554.0" stroke="#a08a85" stroke-width="6" opacity="0.9" fill="none"/>
<path d="M969.0 562.0 Q976.0 603.0 977.0 663.0" stroke="#9d837d" stroke-width="8.5" opacity="0.9" fill="none"/>
<path d="M966.0 560.0 L1012.0 531.0" stroke="#b39c96" stroke-width="5" opacity="0.85" fill="none"/>
</g>
</g>
<path d="M1014.87 619.30 A72.60 61.60 30.00 1 1 889.13 546.70 A72.60 61.60 30.00 1 1 1014.87 619.30 Z" fill="none" stroke="#c07d71" stroke-width="2.5" opacity="0.9"/>
</g></g></g>
</svg>
<p class="blk">
<span class="ln" id="l0" style="left:68.93px;top:75.01px;font-size:42.4px;transform:scaleX(1.0690);">Lâminas</span> <span class="ln" id="l1" style="left:253.64px;top:75.01px;font-size:42.4px;transform:scaleX(1.0977);">de</span> <span class="ln" id="l2" style="left:316.35px;top:75.01px;font-size:42.4px;transform:scaleX(1.1116);">autoafiação</span>
<span class="ln" id="l3" style="left:131.03px;top:130.01px;font-size:42.4px;transform:scaleX(1.0573);">para</span> <span class="ln" id="l4" style="left:235.78px;top:130.01px;font-size:42.4px;transform:scaleX(1.1092);">garantir</span> <span class="ln" id="l5" style="left:408.41px;top:130.01px;font-size:42.4px;transform:scaleX(1.0608);">uma</span>
<span class="ln" id="l6" style="left:111.21px;top:184.51px;font-size:42.4px;transform:scaleX(1.1028);">depilação</span> <span class="ln" id="l7" style="left:320.77px;top:184.51px;font-size:42.4px;transform:scaleX(1.0753);"><b>precisa</b></span> <span class="ln" id="l8" style="left:492.10px;top:184.51px;font-size:42.4px;transform:scaleX(1.1200);"><b>e</b></span>
<span class="ln" id="l9" style="left:185.60px;top:239.31px;font-size:42.4px;transform:scaleX(1.0955);"><b>confortável</b></span>
</p>
<p class="blk">
<span class="ln" id="l10" style="left:1147.24px;top:69.42px;font-size:46.4px;transform:scaleX(1.0709);">Cabeça</span> <span class="ln" id="l11" style="left:1334.59px;top:69.42px;font-size:46.4px;transform:scaleX(1.1333);">de</span> <span class="ln" id="l12" style="left:1405.69px;top:69.42px;font-size:46.4px;transform:scaleX(1.1024);">halo</span> <span class="ln" id="l13" style="left:1517.40px;top:69.42px;font-size:46.4px;transform:scaleX(1.1174);">duplo,</span>
<span class="ln" id="l14" style="left:1176.64px;top:129.82px;font-size:46.4px;transform:scaleX(1.0529);">uma</span> <span class="ln" id="l15" style="left:1288.05px;top:129.82px;font-size:46.4px;transform:scaleX(1.1082);">depilação</span> <span class="ln" id="l16" style="left:1520.49px;top:129.82px;font-size:46.4px;transform:scaleX(1.0849);">mais</span>
<span class="ln" id="l17" style="left:1195.54px;top:190.72px;font-size:46.4px;transform:scaleX(1.0846);"><b>rápida</b></span> <span class="ln" id="l18" style="left:1359.04px;top:190.72px;font-size:46.4px;transform:scaleX(1.1174);"><b>e</b></span> <span class="ln" id="l19" style="left:1398.84px;top:190.72px;font-size:46.4px;transform:scaleX(1.1092);"><b>eficiente</b></span>
</p>
<p class="blk">
<span class="ln" id="l20" style="left:96.21px;top:846.85px;font-size:42.0px;transform:scaleX(1.1440);">substituir</span> <span class="ln" id="l21" style="left:299.47px;top:846.85px;font-size:42.0px;transform:scaleX(1.0585);">as</span> <span class="ln" id="l22" style="left:360.06px;top:846.85px;font-size:42.0px;transform:scaleX(1.0994);">cabeças</span> <span class="ln" id="l23" style="left:544.45px;top:846.85px;font-size:42.0px;transform:scaleX(1.0000);">a</span>
<span class="ln" id="l24" style="left:165.67px;top:900.95px;font-size:42.0px;transform:scaleX(1.0787);">cada</span> <span class="ln" id="l25" style="left:279.02px;top:900.95px;font-size:42.0px;transform:scaleX(1.2123);">3-6</span> <span class="ln" id="l26" style="left:364.94px;top:900.95px;font-size:42.0px;transform:scaleX(1.0899);">meses</span>
</p>
<p class="blk">
<span class="ln" id="l27" style="left:1140.17px;top:810.75px;font-size:42.0px;transform:scaleX(1.0808);"><b>Deslizam</b></span> <span class="ln" id="l28" style="left:1346.25px;top:810.75px;font-size:42.0px;transform:scaleX(1.0830);"><b>delicadamente</b></span>
<span class="ln" id="l29" style="left:1101.53px;top:865.95px;font-size:42.0px;transform:scaleX(1.0571);"><b>sobre</b></span> <span class="ln" id="l30" style="left:1233.45px;top:865.95px;font-size:42.0px;transform:scaleX(1.0000);"><b>a</b></span> <span class="ln" id="l31" style="left:1268.56px;top:865.95px;font-size:42.0px;transform:scaleX(1.0912);"><b>pele</b></span> <span class="ln" id="l32" style="left:1358.10px;top:865.95px;font-size:42.0px;transform:scaleX(1.0800);">,</span> <span class="ln" id="l33" style="left:1383.81px;top:865.95px;font-size:42.0px;transform:scaleX(1.0941);">acompanhando</span>
<span class="ln" id="l34" style="left:1160.45px;top:921.05px;font-size:42.0px;transform:scaleX(1.0876);">cada</span> <span class="ln" id="l35" style="left:1272.80px;top:921.05px;font-size:42.0px;transform:scaleX(1.1356);">contorno</span> <span class="ln" id="l36" style="left:1469.50px;top:921.05px;font-size:42.0px;transform:scaleX(1.1419);">do</span> <span class="ln" id="l37" style="left:1533.05px;top:921.05px;font-size:42.0px;transform:scaleX(1.1705);">rosto</span>
</p>
</body></html>
